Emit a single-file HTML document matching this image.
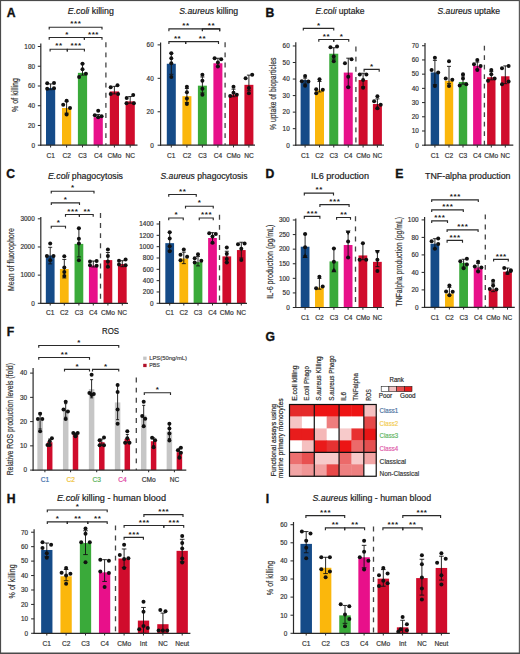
<!DOCTYPE html><html><head><meta charset="utf-8"><style>
html,body{margin:0;padding:0;background:#fff;}
svg{display:block;font-family:"Liberation Sans", sans-serif;}
</style></head><body>
<svg width="520" height="654" viewBox="0 0 520 654">
<rect x="0" y="0" width="520" height="654" fill="#fff"/><rect x="46.00" y="87.95" width="9.20" height="57.25" fill="#154b88"/>
<rect x="62.00" y="107.99" width="9.20" height="37.21" fill="#fbb70c"/>
<rect x="77.90" y="72.85" width="9.20" height="72.35" fill="#3aaa3a"/>
<rect x="93.60" y="117.17" width="9.20" height="28.03" fill="#e8108a"/>
<rect x="109.80" y="91.41" width="9.20" height="53.79" fill="#d00c2c"/>
<rect x="125.60" y="101.38" width="9.20" height="43.82" fill="#d00c2c"/>
<line x1="50.60" y1="83.91" x2="50.60" y2="89.73" stroke="#111" stroke-width="0.9"/>
<line x1="48.60" y1="83.91" x2="52.60" y2="83.91" stroke="#111" stroke-width="0.9"/>
<line x1="48.60" y1="89.73" x2="52.60" y2="89.73" stroke="#111" stroke-width="0.9"/>
<circle cx="47.20" cy="83.32" r="2.0" fill="#111"/>
<circle cx="54.00" cy="83.02" r="2.0" fill="#111"/>
<circle cx="47.20" cy="88.84" r="2.0" fill="#111"/>
<circle cx="54.00" cy="88.35" r="2.0" fill="#111"/>
<line x1="66.60" y1="101.57" x2="66.60" y2="113.12" stroke="#111" stroke-width="0.9"/>
<line x1="64.60" y1="101.57" x2="68.60" y2="101.57" stroke="#111" stroke-width="0.9"/>
<line x1="64.60" y1="113.12" x2="68.60" y2="113.12" stroke="#111" stroke-width="0.9"/>
<circle cx="66.60" cy="100.69" r="2.0" fill="#111"/>
<circle cx="63.20" cy="104.73" r="2.0" fill="#111"/>
<circle cx="70.00" cy="107.99" r="2.0" fill="#111"/>
<circle cx="66.60" cy="114.41" r="2.0" fill="#111"/>
<line x1="82.50" y1="63.77" x2="82.50" y2="75.12" stroke="#111" stroke-width="0.9"/>
<line x1="80.50" y1="63.77" x2="84.50" y2="63.77" stroke="#111" stroke-width="0.9"/>
<line x1="80.50" y1="75.12" x2="84.50" y2="75.12" stroke="#111" stroke-width="0.9"/>
<circle cx="82.50" cy="63.77" r="2.0" fill="#111"/>
<circle cx="82.50" cy="69.30" r="2.0" fill="#111"/>
<circle cx="79.10" cy="76.90" r="2.0" fill="#111"/>
<circle cx="85.90" cy="73.84" r="2.0" fill="#111"/>
<line x1="98.20" y1="114.60" x2="98.20" y2="117.56" stroke="#111" stroke-width="0.9"/>
<line x1="96.20" y1="114.60" x2="100.20" y2="114.60" stroke="#111" stroke-width="0.9"/>
<line x1="96.20" y1="117.56" x2="100.20" y2="117.56" stroke="#111" stroke-width="0.9"/>
<circle cx="98.20" cy="110.75" r="2.0" fill="#111"/>
<circle cx="94.80" cy="115.29" r="2.0" fill="#111"/>
<circle cx="101.60" cy="116.18" r="2.0" fill="#111"/>
<circle cx="98.20" cy="117.17" r="2.0" fill="#111"/>
<line x1="114.40" y1="86.37" x2="114.40" y2="93.88" stroke="#111" stroke-width="0.9"/>
<line x1="112.40" y1="86.37" x2="116.40" y2="86.37" stroke="#111" stroke-width="0.9"/>
<line x1="112.40" y1="93.88" x2="116.40" y2="93.88" stroke="#111" stroke-width="0.9"/>
<circle cx="110.70" cy="87.26" r="2.0" fill="#111"/>
<circle cx="117.50" cy="85.19" r="2.0" fill="#111"/>
<circle cx="110.70" cy="94.07" r="2.0" fill="#111"/>
<circle cx="118.10" cy="94.07" r="2.0" fill="#111"/>
<line x1="130.20" y1="96.54" x2="130.20" y2="103.15" stroke="#111" stroke-width="0.9"/>
<line x1="128.20" y1="96.54" x2="132.20" y2="96.54" stroke="#111" stroke-width="0.9"/>
<line x1="128.20" y1="103.15" x2="132.20" y2="103.15" stroke="#111" stroke-width="0.9"/>
<circle cx="126.70" cy="98.02" r="2.0" fill="#111"/>
<circle cx="133.20" cy="95.06" r="2.0" fill="#111"/>
<circle cx="126.50" cy="103.15" r="2.0" fill="#111"/>
<circle cx="133.90" cy="103.15" r="2.0" fill="#111"/>
<line x1="105.90" y1="42.30" x2="105.90" y2="145.00" stroke="#444" stroke-width="1.3" stroke-dasharray="4.9 5.2"/>
<line x1="40.80" y1="43.50" x2="40.80" y2="145.80" stroke="#2a2a2a" stroke-width="1.2"/>
<line x1="40.20" y1="145.20" x2="137.50" y2="145.20" stroke="#2a2a2a" stroke-width="1.2"/>
<line x1="37.80" y1="145.20" x2="40.80" y2="145.20" stroke="#2a2a2a" stroke-width="1.02"/>
<text x="35.00" y="147.50" font-size="6.4" text-anchor="end" fill="#333333" stroke="#333333" stroke-width="0.18">0</text>
<line x1="37.80" y1="125.46" x2="40.80" y2="125.46" stroke="#2a2a2a" stroke-width="1.02"/>
<text x="35.00" y="127.76" font-size="6.4" text-anchor="end" fill="#333333" stroke="#333333" stroke-width="0.18">20</text>
<line x1="37.80" y1="105.72" x2="40.80" y2="105.72" stroke="#2a2a2a" stroke-width="1.02"/>
<text x="35.00" y="108.02" font-size="6.4" text-anchor="end" fill="#333333" stroke="#333333" stroke-width="0.18">40</text>
<line x1="37.80" y1="85.98" x2="40.80" y2="85.98" stroke="#2a2a2a" stroke-width="1.02"/>
<text x="35.00" y="88.28" font-size="6.4" text-anchor="end" fill="#333333" stroke="#333333" stroke-width="0.18">60</text>
<line x1="37.80" y1="66.24" x2="40.80" y2="66.24" stroke="#2a2a2a" stroke-width="1.02"/>
<text x="35.00" y="68.54" font-size="6.4" text-anchor="end" fill="#333333" stroke="#333333" stroke-width="0.18">80</text>
<line x1="37.80" y1="46.50" x2="40.80" y2="46.50" stroke="#2a2a2a" stroke-width="1.02"/>
<text x="35.00" y="48.80" font-size="6.4" text-anchor="end" fill="#333333" stroke="#333333" stroke-width="0.18">100</text>
<line x1="50.60" y1="145.20" x2="50.60" y2="147.40" stroke="#2a2a2a" stroke-width="1.02"/>
<line x1="66.60" y1="145.20" x2="66.60" y2="147.40" stroke="#2a2a2a" stroke-width="1.02"/>
<line x1="82.50" y1="145.20" x2="82.50" y2="147.40" stroke="#2a2a2a" stroke-width="1.02"/>
<line x1="98.20" y1="145.20" x2="98.20" y2="147.40" stroke="#2a2a2a" stroke-width="1.02"/>
<line x1="114.40" y1="145.20" x2="114.40" y2="147.40" stroke="#2a2a2a" stroke-width="1.02"/>
<line x1="130.20" y1="145.20" x2="130.20" y2="147.40" stroke="#2a2a2a" stroke-width="1.02"/>
<text x="50.60" y="157.50" font-size="6.6" text-anchor="middle" fill="#333333" stroke="#333333" stroke-width="0.18">C1</text>
<text x="66.60" y="157.50" font-size="6.6" text-anchor="middle" fill="#333333" stroke="#333333" stroke-width="0.18">C2</text>
<text x="82.50" y="157.50" font-size="6.6" text-anchor="middle" fill="#333333" stroke="#333333" stroke-width="0.18">C3</text>
<text x="98.20" y="157.50" font-size="6.6" text-anchor="middle" fill="#333333" stroke="#333333" stroke-width="0.18">C4</text>
<text x="114.40" y="157.50" font-size="6.6" text-anchor="middle" fill="#333333" stroke="#333333" stroke-width="0.18">CMo</text>
<text x="130.20" y="157.50" font-size="6.6" text-anchor="middle" fill="#333333" stroke="#333333" stroke-width="0.18">NC</text>
<path d="M49.20 29.50V27.20H102.00V29.50" fill="none" stroke="#2a2a2a" stroke-width="1.15"/>
<text x="75.90" y="26.40" font-size="8" text-anchor="middle" fill="#1a1a1a" font-weight="bold" letter-spacing="0.6">***</text>
<path d="M49.20 39.80V37.50H84.40V39.80" fill="none" stroke="#2a2a2a" stroke-width="1.15"/>
<text x="67.00" y="36.70" font-size="8" text-anchor="middle" fill="#1a1a1a" font-weight="bold" letter-spacing="0.6">*</text>
<path d="M84.40 39.80V37.50H102.00V39.80" fill="none" stroke="#2a2a2a" stroke-width="1.15"/>
<text x="93.50" y="36.70" font-size="8" text-anchor="middle" fill="#1a1a1a" font-weight="bold" letter-spacing="0.6">***</text>
<path d="M50.10 51.50V49.20H67.30V51.50" fill="none" stroke="#2a2a2a" stroke-width="1.15"/>
<text x="59.00" y="48.40" font-size="8" text-anchor="middle" fill="#1a1a1a" font-weight="bold" letter-spacing="0.6">**</text>
<path d="M67.30 51.50V49.20H84.40V51.50" fill="none" stroke="#2a2a2a" stroke-width="1.15"/>
<text x="76.15" y="48.40" font-size="8" text-anchor="middle" fill="#1a1a1a" font-weight="bold" letter-spacing="0.6">***</text>
<text x="67.80" y="14.10" font-size="8.2" fill="#222" stroke="#222" stroke-width="0.18" text-anchor="start" textLength="46.00" lengthAdjust="spacingAndGlyphs"><tspan font-style="italic">E.coli</tspan> killing</text>
<text x="18.40" y="95.00" font-size="8.4" text-anchor="middle" fill="#333333" stroke="#333333" stroke-width="0.18" textLength="33.90" lengthAdjust="spacingAndGlyphs" transform="rotate(-90 18.40 95.00)">% of killing</text>
<rect x="166.80" y="63.77" width="9.00" height="81.43" fill="#154b88"/>
<rect x="182.40" y="96.21" width="9.00" height="48.99" fill="#fbb70c"/>
<rect x="197.90" y="85.68" width="9.00" height="59.52" fill="#3aaa3a"/>
<rect x="213.40" y="63.27" width="9.00" height="81.93" fill="#e8108a"/>
<rect x="229.00" y="94.71" width="9.00" height="50.49" fill="#d00c2c"/>
<rect x="244.40" y="84.84" width="9.00" height="60.36" fill="#d00c2c"/>
<line x1="171.30" y1="53.24" x2="171.30" y2="74.31" stroke="#111" stroke-width="0.9"/>
<line x1="169.30" y1="53.24" x2="173.30" y2="53.24" stroke="#111" stroke-width="0.9"/>
<line x1="169.30" y1="74.31" x2="173.30" y2="74.31" stroke="#111" stroke-width="0.9"/>
<circle cx="171.30" cy="53.24" r="2.0" fill="#111"/>
<circle cx="171.30" cy="58.26" r="2.0" fill="#111"/>
<circle cx="171.30" cy="63.27" r="2.0" fill="#111"/>
<circle cx="171.30" cy="76.98" r="2.0" fill="#111"/>
<line x1="186.90" y1="88.52" x2="186.90" y2="102.56" stroke="#111" stroke-width="0.9"/>
<line x1="184.90" y1="88.52" x2="188.90" y2="88.52" stroke="#111" stroke-width="0.9"/>
<line x1="184.90" y1="102.56" x2="188.90" y2="102.56" stroke="#111" stroke-width="0.9"/>
<circle cx="186.90" cy="86.68" r="2.0" fill="#111"/>
<circle cx="186.90" cy="92.20" r="2.0" fill="#111"/>
<circle cx="186.90" cy="98.38" r="2.0" fill="#111"/>
<circle cx="186.90" cy="103.90" r="2.0" fill="#111"/>
<line x1="202.40" y1="76.98" x2="202.40" y2="92.87" stroke="#111" stroke-width="0.9"/>
<line x1="200.40" y1="76.98" x2="204.40" y2="76.98" stroke="#111" stroke-width="0.9"/>
<line x1="200.40" y1="92.87" x2="204.40" y2="92.87" stroke="#111" stroke-width="0.9"/>
<circle cx="202.40" cy="74.64" r="2.0" fill="#111"/>
<circle cx="202.40" cy="80.66" r="2.0" fill="#111"/>
<circle cx="202.40" cy="88.85" r="2.0" fill="#111"/>
<circle cx="202.40" cy="94.71" r="2.0" fill="#111"/>
<line x1="217.90" y1="58.26" x2="217.90" y2="66.62" stroke="#111" stroke-width="0.9"/>
<line x1="215.90" y1="58.26" x2="219.90" y2="58.26" stroke="#111" stroke-width="0.9"/>
<line x1="215.90" y1="66.62" x2="219.90" y2="66.62" stroke="#111" stroke-width="0.9"/>
<circle cx="214.60" cy="58.26" r="2.0" fill="#111"/>
<circle cx="221.20" cy="59.26" r="2.0" fill="#111"/>
<circle cx="217.90" cy="62.44" r="2.0" fill="#111"/>
<circle cx="217.90" cy="66.62" r="2.0" fill="#111"/>
<line x1="233.50" y1="89.19" x2="233.50" y2="96.71" stroke="#111" stroke-width="0.9"/>
<line x1="231.50" y1="89.19" x2="235.50" y2="89.19" stroke="#111" stroke-width="0.9"/>
<line x1="231.50" y1="96.71" x2="235.50" y2="96.71" stroke="#111" stroke-width="0.9"/>
<circle cx="233.50" cy="86.68" r="2.0" fill="#111"/>
<circle cx="230.20" cy="95.88" r="2.0" fill="#111"/>
<circle cx="236.80" cy="94.71" r="2.0" fill="#111"/>
<circle cx="233.50" cy="92.87" r="2.0" fill="#111"/>
<line x1="248.90" y1="75.14" x2="248.90" y2="90.69" stroke="#111" stroke-width="0.9"/>
<line x1="246.90" y1="75.14" x2="250.90" y2="75.14" stroke="#111" stroke-width="0.9"/>
<line x1="246.90" y1="90.69" x2="250.90" y2="90.69" stroke="#111" stroke-width="0.9"/>
<circle cx="245.60" cy="78.32" r="2.0" fill="#111"/>
<circle cx="252.20" cy="74.64" r="2.0" fill="#111"/>
<circle cx="248.90" cy="88.02" r="2.0" fill="#111"/>
<circle cx="248.90" cy="93.37" r="2.0" fill="#111"/>
<line x1="225.10" y1="42.30" x2="225.10" y2="145.00" stroke="#444" stroke-width="1.3" stroke-dasharray="4.9 5.2"/>
<line x1="160.60" y1="42.50" x2="160.60" y2="145.80" stroke="#2a2a2a" stroke-width="1.2"/>
<line x1="160.00" y1="145.20" x2="255.00" y2="145.20" stroke="#2a2a2a" stroke-width="1.2"/>
<line x1="157.60" y1="145.20" x2="160.60" y2="145.20" stroke="#2a2a2a" stroke-width="1.02"/>
<text x="153.70" y="147.50" font-size="6.4" text-anchor="end" fill="#333333" stroke="#333333" stroke-width="0.18">0</text>
<line x1="157.60" y1="111.76" x2="160.60" y2="111.76" stroke="#2a2a2a" stroke-width="1.02"/>
<text x="153.70" y="114.06" font-size="6.4" text-anchor="end" fill="#333333" stroke="#333333" stroke-width="0.18">20</text>
<line x1="157.60" y1="78.32" x2="160.60" y2="78.32" stroke="#2a2a2a" stroke-width="1.02"/>
<text x="153.70" y="80.62" font-size="6.4" text-anchor="end" fill="#333333" stroke="#333333" stroke-width="0.18">40</text>
<line x1="157.60" y1="44.88" x2="160.60" y2="44.88" stroke="#2a2a2a" stroke-width="1.02"/>
<text x="153.70" y="47.18" font-size="6.4" text-anchor="end" fill="#333333" stroke="#333333" stroke-width="0.18">60</text>
<line x1="171.30" y1="145.20" x2="171.30" y2="147.40" stroke="#2a2a2a" stroke-width="1.02"/>
<line x1="186.90" y1="145.20" x2="186.90" y2="147.40" stroke="#2a2a2a" stroke-width="1.02"/>
<line x1="202.40" y1="145.20" x2="202.40" y2="147.40" stroke="#2a2a2a" stroke-width="1.02"/>
<line x1="217.90" y1="145.20" x2="217.90" y2="147.40" stroke="#2a2a2a" stroke-width="1.02"/>
<line x1="233.50" y1="145.20" x2="233.50" y2="147.40" stroke="#2a2a2a" stroke-width="1.02"/>
<line x1="248.90" y1="145.20" x2="248.90" y2="147.40" stroke="#2a2a2a" stroke-width="1.02"/>
<text x="171.30" y="157.50" font-size="6.6" text-anchor="middle" fill="#333333" stroke="#333333" stroke-width="0.18">C1</text>
<text x="186.90" y="157.50" font-size="6.6" text-anchor="middle" fill="#333333" stroke="#333333" stroke-width="0.18">C2</text>
<text x="202.40" y="157.50" font-size="6.6" text-anchor="middle" fill="#333333" stroke="#333333" stroke-width="0.18">C3</text>
<text x="217.90" y="157.50" font-size="6.6" text-anchor="middle" fill="#333333" stroke="#333333" stroke-width="0.18">C4</text>
<text x="233.50" y="157.50" font-size="6.6" text-anchor="middle" fill="#333333" stroke="#333333" stroke-width="0.18">CMo</text>
<text x="248.90" y="157.50" font-size="6.6" text-anchor="middle" fill="#333333" stroke="#333333" stroke-width="0.18">NC</text>
<path d="M168.90 31.20V28.90H219.70V31.20" fill="none" stroke="#2a2a2a" stroke-width="1.15"/>
<line x1="202.40" y1="28.90" x2="202.40" y2="30.74" stroke="#2a2a2a" stroke-width="1.15"/>
<text x="186.00" y="28.10" font-size="8" text-anchor="middle" fill="#1a1a1a" font-weight="bold" letter-spacing="0.6">**</text>
<path d="M202.40 31.20V28.90H219.70V31.20" fill="none" stroke="#2a2a2a" stroke-width="1.15"/>
<text x="211.40" y="28.10" font-size="8" text-anchor="middle" fill="#1a1a1a" font-weight="bold" letter-spacing="0.6">**</text>
<path d="M168.90 43.90V41.60H185.70V43.90" fill="none" stroke="#2a2a2a" stroke-width="1.15"/>
<text x="177.60" y="40.80" font-size="8" text-anchor="middle" fill="#1a1a1a" font-weight="bold" letter-spacing="0.6">**</text>
<path d="M185.70 43.90V41.60H218.50V43.90" fill="none" stroke="#2a2a2a" stroke-width="1.15"/>
<text x="202.40" y="40.80" font-size="8" text-anchor="middle" fill="#1a1a1a" font-weight="bold" letter-spacing="0.6">**</text>
<text x="179.30" y="14.30" font-size="8.2" fill="#222" stroke="#222" stroke-width="0.18" text-anchor="start" textLength="58.90" lengthAdjust="spacingAndGlyphs"><tspan font-style="italic">S.aureus</tspan> killing</text>
<rect x="300.60" y="80.03" width="9.00" height="65.17" fill="#154b88"/>
<rect x="315.00" y="90.12" width="9.00" height="55.08" fill="#fbb70c"/>
<rect x="329.25" y="53.73" width="9.00" height="91.47" fill="#3aaa3a"/>
<rect x="343.75" y="72.59" width="9.00" height="72.61" fill="#e8108a"/>
<rect x="358.60" y="80.03" width="9.00" height="65.17" fill="#d00c2c"/>
<rect x="372.90" y="104.02" width="9.00" height="41.18" fill="#d00c2c"/>
<line x1="305.10" y1="78.05" x2="305.10" y2="84.00" stroke="#111" stroke-width="0.9"/>
<line x1="303.10" y1="78.05" x2="307.10" y2="78.05" stroke="#111" stroke-width="0.9"/>
<line x1="303.10" y1="84.00" x2="307.10" y2="84.00" stroke="#111" stroke-width="0.9"/>
<circle cx="305.10" cy="76.06" r="2.0" fill="#111"/>
<circle cx="301.80" cy="81.19" r="2.0" fill="#111"/>
<circle cx="308.40" cy="81.52" r="2.0" fill="#111"/>
<circle cx="305.10" cy="85.82" r="2.0" fill="#111"/>
<line x1="319.50" y1="81.52" x2="319.50" y2="91.94" stroke="#111" stroke-width="0.9"/>
<line x1="317.50" y1="81.52" x2="321.50" y2="81.52" stroke="#111" stroke-width="0.9"/>
<line x1="317.50" y1="91.94" x2="321.50" y2="91.94" stroke="#111" stroke-width="0.9"/>
<circle cx="319.50" cy="79.37" r="2.0" fill="#111"/>
<circle cx="316.20" cy="89.29" r="2.0" fill="#111"/>
<circle cx="322.80" cy="89.79" r="2.0" fill="#111"/>
<circle cx="316.20" cy="93.26" r="2.0" fill="#111"/>
<line x1="333.75" y1="47.78" x2="333.75" y2="59.03" stroke="#111" stroke-width="0.9"/>
<line x1="331.75" y1="47.78" x2="335.75" y2="47.78" stroke="#111" stroke-width="0.9"/>
<line x1="331.75" y1="59.03" x2="335.75" y2="59.03" stroke="#111" stroke-width="0.9"/>
<circle cx="330.45" cy="47.28" r="2.0" fill="#111"/>
<circle cx="337.05" cy="46.62" r="2.0" fill="#111"/>
<circle cx="333.75" cy="56.38" r="2.0" fill="#111"/>
<circle cx="333.75" cy="61.18" r="2.0" fill="#111"/>
<line x1="348.25" y1="58.20" x2="348.25" y2="86.65" stroke="#111" stroke-width="0.9"/>
<line x1="346.25" y1="58.20" x2="350.25" y2="58.20" stroke="#111" stroke-width="0.9"/>
<line x1="346.25" y1="86.65" x2="350.25" y2="86.65" stroke="#111" stroke-width="0.9"/>
<circle cx="344.95" cy="63.33" r="2.0" fill="#111"/>
<circle cx="351.55" cy="59.36" r="2.0" fill="#111"/>
<circle cx="348.25" cy="76.72" r="2.0" fill="#111"/>
<circle cx="348.25" cy="87.14" r="2.0" fill="#111"/>
<line x1="363.10" y1="73.25" x2="363.10" y2="86.81" stroke="#111" stroke-width="0.9"/>
<line x1="361.10" y1="73.25" x2="365.10" y2="73.25" stroke="#111" stroke-width="0.9"/>
<line x1="361.10" y1="86.81" x2="365.10" y2="86.81" stroke="#111" stroke-width="0.9"/>
<circle cx="359.80" cy="74.57" r="2.0" fill="#111"/>
<circle cx="366.40" cy="74.57" r="2.0" fill="#111"/>
<circle cx="363.10" cy="80.03" r="2.0" fill="#111"/>
<circle cx="363.10" cy="87.64" r="2.0" fill="#111"/>
<line x1="377.40" y1="98.89" x2="377.40" y2="108.81" stroke="#111" stroke-width="0.9"/>
<line x1="375.40" y1="98.89" x2="379.40" y2="98.89" stroke="#111" stroke-width="0.9"/>
<line x1="375.40" y1="108.81" x2="379.40" y2="108.81" stroke="#111" stroke-width="0.9"/>
<circle cx="377.40" cy="96.24" r="2.0" fill="#111"/>
<circle cx="374.10" cy="101.37" r="2.0" fill="#111"/>
<circle cx="380.70" cy="104.84" r="2.0" fill="#111"/>
<circle cx="377.40" cy="108.32" r="2.0" fill="#111"/>
<line x1="355.90" y1="46.60" x2="355.90" y2="145.00" stroke="#444" stroke-width="1.3" stroke-dasharray="4.9 5.2"/>
<line x1="295.80" y1="42.30" x2="295.80" y2="145.80" stroke="#2a2a2a" stroke-width="1.2"/>
<line x1="295.20" y1="145.20" x2="384.00" y2="145.20" stroke="#2a2a2a" stroke-width="1.2"/>
<line x1="292.80" y1="145.20" x2="295.80" y2="145.20" stroke="#2a2a2a" stroke-width="1.02"/>
<text x="289.70" y="147.50" font-size="6.4" text-anchor="end" fill="#333333" stroke="#333333" stroke-width="0.18">0</text>
<line x1="292.80" y1="128.66" x2="295.80" y2="128.66" stroke="#2a2a2a" stroke-width="1.02"/>
<text x="289.70" y="130.96" font-size="6.4" text-anchor="end" fill="#333333" stroke="#333333" stroke-width="0.18">10</text>
<line x1="292.80" y1="112.12" x2="295.80" y2="112.12" stroke="#2a2a2a" stroke-width="1.02"/>
<text x="289.70" y="114.42" font-size="6.4" text-anchor="end" fill="#333333" stroke="#333333" stroke-width="0.18">20</text>
<line x1="292.80" y1="95.58" x2="295.80" y2="95.58" stroke="#2a2a2a" stroke-width="1.02"/>
<text x="289.70" y="97.88" font-size="6.4" text-anchor="end" fill="#333333" stroke="#333333" stroke-width="0.18">30</text>
<line x1="292.80" y1="79.04" x2="295.80" y2="79.04" stroke="#2a2a2a" stroke-width="1.02"/>
<text x="289.70" y="81.34" font-size="6.4" text-anchor="end" fill="#333333" stroke="#333333" stroke-width="0.18">40</text>
<line x1="292.80" y1="62.50" x2="295.80" y2="62.50" stroke="#2a2a2a" stroke-width="1.02"/>
<text x="289.70" y="64.80" font-size="6.4" text-anchor="end" fill="#333333" stroke="#333333" stroke-width="0.18">50</text>
<line x1="292.80" y1="45.96" x2="295.80" y2="45.96" stroke="#2a2a2a" stroke-width="1.02"/>
<text x="289.70" y="48.26" font-size="6.4" text-anchor="end" fill="#333333" stroke="#333333" stroke-width="0.18">60</text>
<line x1="305.10" y1="145.20" x2="305.10" y2="147.40" stroke="#2a2a2a" stroke-width="1.02"/>
<line x1="319.50" y1="145.20" x2="319.50" y2="147.40" stroke="#2a2a2a" stroke-width="1.02"/>
<line x1="333.75" y1="145.20" x2="333.75" y2="147.40" stroke="#2a2a2a" stroke-width="1.02"/>
<line x1="348.25" y1="145.20" x2="348.25" y2="147.40" stroke="#2a2a2a" stroke-width="1.02"/>
<line x1="363.10" y1="145.20" x2="363.10" y2="147.40" stroke="#2a2a2a" stroke-width="1.02"/>
<line x1="377.40" y1="145.20" x2="377.40" y2="147.40" stroke="#2a2a2a" stroke-width="1.02"/>
<text x="305.10" y="157.50" font-size="6.6" text-anchor="middle" fill="#333333" stroke="#333333" stroke-width="0.18">C1</text>
<text x="319.50" y="157.50" font-size="6.6" text-anchor="middle" fill="#333333" stroke="#333333" stroke-width="0.18">C2</text>
<text x="333.75" y="157.50" font-size="6.6" text-anchor="middle" fill="#333333" stroke="#333333" stroke-width="0.18">C3</text>
<text x="348.25" y="157.50" font-size="6.6" text-anchor="middle" fill="#333333" stroke="#333333" stroke-width="0.18">C4</text>
<text x="363.10" y="157.50" font-size="6.6" text-anchor="middle" fill="#333333" stroke="#333333" stroke-width="0.18">CMo</text>
<text x="377.40" y="157.50" font-size="6.6" text-anchor="middle" fill="#333333" stroke="#333333" stroke-width="0.18">NC</text>
<path d="M303.30 30.60V28.30H333.75V30.60" fill="none" stroke="#2a2a2a" stroke-width="1.15"/>
<text x="318.82" y="27.50" font-size="8" text-anchor="middle" fill="#1a1a1a" font-weight="bold" letter-spacing="0.6">*</text>
<path d="M318.80 41.80V39.50H333.75V41.80" fill="none" stroke="#2a2a2a" stroke-width="1.15"/>
<text x="326.57" y="38.70" font-size="8" text-anchor="middle" fill="#1a1a1a" font-weight="bold" letter-spacing="0.6">**</text>
<path d="M333.75 41.80V39.50H348.75V41.80" fill="none" stroke="#2a2a2a" stroke-width="1.15"/>
<text x="341.55" y="38.70" font-size="8" text-anchor="middle" fill="#1a1a1a" font-weight="bold" letter-spacing="0.6">*</text>
<path d="M364.10 71.70V69.40H379.20V71.70" fill="none" stroke="#2a2a2a" stroke-width="1.15"/>
<text x="371.95" y="68.60" font-size="8" text-anchor="middle" fill="#1a1a1a" font-weight="bold" letter-spacing="0.6">*</text>
<text x="315.50" y="14.10" font-size="8.2" fill="#222" stroke="#222" stroke-width="0.18" text-anchor="start" textLength="49.00" lengthAdjust="spacingAndGlyphs"><tspan font-style="italic">E.coli</tspan> uptake</text>
<text x="275.60" y="93.80" font-size="8.4" text-anchor="middle" fill="#333333" stroke="#333333" stroke-width="0.18" textLength="72.50" lengthAdjust="spacingAndGlyphs" transform="rotate(-90 275.60 93.80)">% uptake of bioparticles</text>
<rect x="430.70" y="72.44" width="8.40" height="72.76" fill="#154b88"/>
<rect x="444.80" y="80.83" width="8.40" height="64.37" fill="#fbb70c"/>
<rect x="458.80" y="81.97" width="8.40" height="63.23" fill="#3aaa3a"/>
<rect x="473.10" y="65.91" width="8.40" height="79.29" fill="#e8108a"/>
<rect x="487.10" y="77.28" width="8.40" height="67.92" fill="#d00c2c"/>
<rect x="501.10" y="76.28" width="8.40" height="68.92" fill="#d00c2c"/>
<line x1="434.90" y1="60.37" x2="434.90" y2="84.67" stroke="#111" stroke-width="0.9"/>
<line x1="432.90" y1="60.37" x2="436.90" y2="60.37" stroke="#111" stroke-width="0.9"/>
<line x1="432.90" y1="84.67" x2="436.90" y2="84.67" stroke="#111" stroke-width="0.9"/>
<circle cx="434.90" cy="57.81" r="2.0" fill="#111"/>
<circle cx="431.60" cy="69.89" r="2.0" fill="#111"/>
<circle cx="438.20" cy="72.44" r="2.0" fill="#111"/>
<circle cx="434.90" cy="85.94" r="2.0" fill="#111"/>
<line x1="449.00" y1="66.33" x2="449.00" y2="83.67" stroke="#111" stroke-width="0.9"/>
<line x1="447.00" y1="66.33" x2="451.00" y2="66.33" stroke="#111" stroke-width="0.9"/>
<line x1="447.00" y1="83.67" x2="451.00" y2="83.67" stroke="#111" stroke-width="0.9"/>
<circle cx="449.00" cy="61.22" r="2.0" fill="#111"/>
<circle cx="445.70" cy="78.56" r="2.0" fill="#111"/>
<circle cx="452.30" cy="79.83" r="2.0" fill="#111"/>
<circle cx="449.00" cy="85.94" r="2.0" fill="#111"/>
<line x1="463.00" y1="76.00" x2="463.00" y2="84.10" stroke="#111" stroke-width="0.9"/>
<line x1="461.00" y1="76.00" x2="465.00" y2="76.00" stroke="#111" stroke-width="0.9"/>
<line x1="461.00" y1="84.10" x2="465.00" y2="84.10" stroke="#111" stroke-width="0.9"/>
<circle cx="463.00" cy="74.15" r="2.0" fill="#111"/>
<circle cx="463.00" cy="78.56" r="2.0" fill="#111"/>
<circle cx="459.70" cy="85.52" r="2.0" fill="#111"/>
<circle cx="466.30" cy="84.24" r="2.0" fill="#111"/>
<line x1="477.30" y1="62.07" x2="477.30" y2="69.18" stroke="#111" stroke-width="0.9"/>
<line x1="475.30" y1="62.07" x2="479.30" y2="62.07" stroke="#111" stroke-width="0.9"/>
<line x1="475.30" y1="69.18" x2="479.30" y2="69.18" stroke="#111" stroke-width="0.9"/>
<circle cx="477.30" cy="59.94" r="2.0" fill="#111"/>
<circle cx="474.00" cy="64.20" r="2.0" fill="#111"/>
<circle cx="480.60" cy="65.91" r="2.0" fill="#111"/>
<circle cx="477.30" cy="69.89" r="2.0" fill="#111"/>
<line x1="491.30" y1="71.59" x2="491.30" y2="79.83" stroke="#111" stroke-width="0.9"/>
<line x1="489.30" y1="71.59" x2="493.30" y2="71.59" stroke="#111" stroke-width="0.9"/>
<line x1="489.30" y1="79.83" x2="493.30" y2="79.83" stroke="#111" stroke-width="0.9"/>
<circle cx="491.30" cy="69.89" r="2.0" fill="#111"/>
<circle cx="491.30" cy="74.15" r="2.0" fill="#111"/>
<circle cx="488.00" cy="80.83" r="2.0" fill="#111"/>
<circle cx="494.60" cy="78.56" r="2.0" fill="#111"/>
<line x1="505.30" y1="65.91" x2="505.30" y2="83.67" stroke="#111" stroke-width="0.9"/>
<line x1="503.30" y1="65.91" x2="507.30" y2="65.91" stroke="#111" stroke-width="0.9"/>
<line x1="503.30" y1="83.67" x2="507.30" y2="83.67" stroke="#111" stroke-width="0.9"/>
<circle cx="502.00" cy="68.18" r="2.0" fill="#111"/>
<circle cx="508.60" cy="65.91" r="2.0" fill="#111"/>
<circle cx="502.00" cy="84.24" r="2.0" fill="#111"/>
<circle cx="508.60" cy="81.54" r="2.0" fill="#111"/>
<line x1="484.40" y1="45.80" x2="484.40" y2="145.00" stroke="#444" stroke-width="1.3" stroke-dasharray="4.7 4.8"/>
<line x1="425.00" y1="43.00" x2="425.00" y2="145.80" stroke="#2a2a2a" stroke-width="1.2"/>
<line x1="424.40" y1="145.20" x2="513.30" y2="145.20" stroke="#2a2a2a" stroke-width="1.2"/>
<line x1="422.00" y1="145.20" x2="425.00" y2="145.20" stroke="#2a2a2a" stroke-width="1.02"/>
<text x="418.90" y="147.50" font-size="6.4" text-anchor="end" fill="#333333" stroke="#333333" stroke-width="0.18">0</text>
<line x1="422.00" y1="130.99" x2="425.00" y2="130.99" stroke="#2a2a2a" stroke-width="1.02"/>
<text x="418.90" y="133.29" font-size="6.4" text-anchor="end" fill="#333333" stroke="#333333" stroke-width="0.18">10</text>
<line x1="422.00" y1="116.78" x2="425.00" y2="116.78" stroke="#2a2a2a" stroke-width="1.02"/>
<text x="418.90" y="119.08" font-size="6.4" text-anchor="end" fill="#333333" stroke="#333333" stroke-width="0.18">20</text>
<line x1="422.00" y1="102.57" x2="425.00" y2="102.57" stroke="#2a2a2a" stroke-width="1.02"/>
<text x="418.90" y="104.87" font-size="6.4" text-anchor="end" fill="#333333" stroke="#333333" stroke-width="0.18">30</text>
<line x1="422.00" y1="88.36" x2="425.00" y2="88.36" stroke="#2a2a2a" stroke-width="1.02"/>
<text x="418.90" y="90.66" font-size="6.4" text-anchor="end" fill="#333333" stroke="#333333" stroke-width="0.18">40</text>
<line x1="422.00" y1="74.15" x2="425.00" y2="74.15" stroke="#2a2a2a" stroke-width="1.02"/>
<text x="418.90" y="76.45" font-size="6.4" text-anchor="end" fill="#333333" stroke="#333333" stroke-width="0.18">50</text>
<line x1="422.00" y1="59.94" x2="425.00" y2="59.94" stroke="#2a2a2a" stroke-width="1.02"/>
<text x="418.90" y="62.24" font-size="6.4" text-anchor="end" fill="#333333" stroke="#333333" stroke-width="0.18">60</text>
<line x1="422.00" y1="45.73" x2="425.00" y2="45.73" stroke="#2a2a2a" stroke-width="1.02"/>
<text x="418.90" y="48.03" font-size="6.4" text-anchor="end" fill="#333333" stroke="#333333" stroke-width="0.18">70</text>
<line x1="434.90" y1="145.20" x2="434.90" y2="147.40" stroke="#2a2a2a" stroke-width="1.02"/>
<line x1="449.00" y1="145.20" x2="449.00" y2="147.40" stroke="#2a2a2a" stroke-width="1.02"/>
<line x1="463.00" y1="145.20" x2="463.00" y2="147.40" stroke="#2a2a2a" stroke-width="1.02"/>
<line x1="477.30" y1="145.20" x2="477.30" y2="147.40" stroke="#2a2a2a" stroke-width="1.02"/>
<line x1="491.30" y1="145.20" x2="491.30" y2="147.40" stroke="#2a2a2a" stroke-width="1.02"/>
<line x1="505.30" y1="145.20" x2="505.30" y2="147.40" stroke="#2a2a2a" stroke-width="1.02"/>
<text x="434.90" y="157.50" font-size="6.6" text-anchor="middle" fill="#333333" stroke="#333333" stroke-width="0.18">C1</text>
<text x="449.00" y="157.50" font-size="6.6" text-anchor="middle" fill="#333333" stroke="#333333" stroke-width="0.18">C2</text>
<text x="463.00" y="157.50" font-size="6.6" text-anchor="middle" fill="#333333" stroke="#333333" stroke-width="0.18">C3</text>
<text x="477.30" y="157.50" font-size="6.6" text-anchor="middle" fill="#333333" stroke="#333333" stroke-width="0.18">C4</text>
<text x="491.30" y="157.50" font-size="6.6" text-anchor="middle" fill="#333333" stroke="#333333" stroke-width="0.18">CMo</text>
<text x="505.30" y="157.50" font-size="6.6" text-anchor="middle" fill="#333333" stroke="#333333" stroke-width="0.18">NC</text>
<text x="437.50" y="14.10" font-size="8.2" fill="#222" stroke="#222" stroke-width="0.18" text-anchor="start" textLength="62.50" lengthAdjust="spacingAndGlyphs"><tspan font-style="italic">S.aureus</tspan> uptake</text>
<rect x="45.83" y="255.50" width="8.75" height="47.80" fill="#154b88"/>
<rect x="59.92" y="268.99" width="8.75" height="34.31" fill="#fbb70c"/>
<rect x="74.53" y="243.89" width="8.75" height="59.41" fill="#3aaa3a"/>
<rect x="88.92" y="265.50" width="8.75" height="37.80" fill="#e8108a"/>
<rect x="103.53" y="260.09" width="8.75" height="43.21" fill="#d00c2c"/>
<rect x="117.92" y="264.09" width="8.75" height="39.21" fill="#d00c2c"/>
<line x1="50.20" y1="247.30" x2="50.20" y2="263.86" stroke="#111" stroke-width="0.9"/>
<line x1="48.20" y1="247.30" x2="52.20" y2="247.30" stroke="#111" stroke-width="0.9"/>
<line x1="48.20" y1="263.86" x2="52.20" y2="263.86" stroke="#111" stroke-width="0.9"/>
<circle cx="50.20" cy="243.41" r="2.0" fill="#111"/>
<circle cx="46.90" cy="256.00" r="2.0" fill="#111"/>
<circle cx="53.50" cy="256.00" r="2.0" fill="#111"/>
<circle cx="50.20" cy="260.20" r="2.0" fill="#111"/>
<line x1="64.30" y1="259.41" x2="64.30" y2="277.95" stroke="#111" stroke-width="0.9"/>
<line x1="62.30" y1="259.41" x2="66.30" y2="259.41" stroke="#111" stroke-width="0.9"/>
<line x1="62.30" y1="277.95" x2="66.30" y2="277.95" stroke="#111" stroke-width="0.9"/>
<circle cx="64.30" cy="256.31" r="2.0" fill="#111"/>
<circle cx="64.30" cy="267.61" r="2.0" fill="#111"/>
<circle cx="64.30" cy="271.89" r="2.0" fill="#111"/>
<circle cx="64.30" cy="275.89" r="2.0" fill="#111"/>
<line x1="78.90" y1="228.31" x2="78.90" y2="256.90" stroke="#111" stroke-width="0.9"/>
<line x1="76.90" y1="228.31" x2="80.90" y2="228.31" stroke="#111" stroke-width="0.9"/>
<line x1="76.90" y1="256.90" x2="80.90" y2="256.90" stroke="#111" stroke-width="0.9"/>
<circle cx="78.90" cy="228.31" r="2.0" fill="#111"/>
<circle cx="78.90" cy="238.71" r="2.0" fill="#111"/>
<circle cx="78.90" cy="243.41" r="2.0" fill="#111"/>
<circle cx="78.90" cy="260.31" r="2.0" fill="#111"/>
<line x1="93.30" y1="261.05" x2="93.30" y2="266.96" stroke="#111" stroke-width="0.9"/>
<line x1="91.30" y1="261.05" x2="95.30" y2="261.05" stroke="#111" stroke-width="0.9"/>
<line x1="91.30" y1="266.96" x2="95.30" y2="266.96" stroke="#111" stroke-width="0.9"/>
<circle cx="90.00" cy="261.50" r="2.0" fill="#111"/>
<circle cx="96.60" cy="260.99" r="2.0" fill="#111"/>
<circle cx="90.00" cy="265.30" r="2.0" fill="#111"/>
<circle cx="96.60" cy="265.81" r="2.0" fill="#111"/>
<line x1="107.90" y1="252.51" x2="107.90" y2="267.24" stroke="#111" stroke-width="0.9"/>
<line x1="105.90" y1="252.51" x2="109.90" y2="252.51" stroke="#111" stroke-width="0.9"/>
<line x1="105.90" y1="267.24" x2="109.90" y2="267.24" stroke="#111" stroke-width="0.9"/>
<circle cx="107.90" cy="249.41" r="2.0" fill="#111"/>
<circle cx="107.90" cy="256.00" r="2.0" fill="#111"/>
<circle cx="107.90" cy="261.50" r="2.0" fill="#111"/>
<circle cx="107.90" cy="266.71" r="2.0" fill="#111"/>
<line x1="122.30" y1="260.71" x2="122.30" y2="266.68" stroke="#111" stroke-width="0.9"/>
<line x1="120.30" y1="260.71" x2="124.30" y2="260.71" stroke="#111" stroke-width="0.9"/>
<line x1="120.30" y1="266.68" x2="124.30" y2="266.68" stroke="#111" stroke-width="0.9"/>
<circle cx="119.00" cy="260.71" r="2.0" fill="#111"/>
<circle cx="125.60" cy="259.41" r="2.0" fill="#111"/>
<circle cx="119.00" cy="264.59" r="2.0" fill="#111"/>
<circle cx="125.60" cy="265.30" r="2.0" fill="#111"/>
<line x1="100.50" y1="213.00" x2="100.50" y2="303.00" stroke="#444" stroke-width="1.3" stroke-dasharray="4.9 5.2"/>
<line x1="40.80" y1="217.00" x2="40.80" y2="303.90" stroke="#2a2a2a" stroke-width="1.2"/>
<line x1="40.20" y1="303.30" x2="128.00" y2="303.30" stroke="#2a2a2a" stroke-width="1.2"/>
<line x1="37.80" y1="303.30" x2="40.80" y2="303.30" stroke="#2a2a2a" stroke-width="1.02"/>
<text x="34.70" y="305.60" font-size="6.4" text-anchor="end" fill="#333333" stroke="#333333" stroke-width="0.18">0</text>
<line x1="37.80" y1="275.13" x2="40.80" y2="275.13" stroke="#2a2a2a" stroke-width="1.02"/>
<text x="34.70" y="277.43" font-size="6.4" text-anchor="end" fill="#333333" stroke="#333333" stroke-width="0.18">1000</text>
<line x1="37.80" y1="246.96" x2="40.80" y2="246.96" stroke="#2a2a2a" stroke-width="1.02"/>
<text x="34.70" y="249.26" font-size="6.4" text-anchor="end" fill="#333333" stroke="#333333" stroke-width="0.18">2000</text>
<line x1="37.80" y1="218.79" x2="40.80" y2="218.79" stroke="#2a2a2a" stroke-width="1.02"/>
<text x="34.70" y="221.09" font-size="6.4" text-anchor="end" fill="#333333" stroke="#333333" stroke-width="0.18">3000</text>
<line x1="50.20" y1="303.30" x2="50.20" y2="305.50" stroke="#2a2a2a" stroke-width="1.02"/>
<line x1="64.30" y1="303.30" x2="64.30" y2="305.50" stroke="#2a2a2a" stroke-width="1.02"/>
<line x1="78.90" y1="303.30" x2="78.90" y2="305.50" stroke="#2a2a2a" stroke-width="1.02"/>
<line x1="93.30" y1="303.30" x2="93.30" y2="305.50" stroke="#2a2a2a" stroke-width="1.02"/>
<line x1="107.90" y1="303.30" x2="107.90" y2="305.50" stroke="#2a2a2a" stroke-width="1.02"/>
<line x1="122.30" y1="303.30" x2="122.30" y2="305.50" stroke="#2a2a2a" stroke-width="1.02"/>
<text x="50.20" y="314.70" font-size="6.6" text-anchor="middle" fill="#333333" stroke="#333333" stroke-width="0.18">C1</text>
<text x="64.30" y="314.70" font-size="6.6" text-anchor="middle" fill="#333333" stroke="#333333" stroke-width="0.18">C2</text>
<text x="78.90" y="314.70" font-size="6.6" text-anchor="middle" fill="#333333" stroke="#333333" stroke-width="0.18">C3</text>
<text x="93.30" y="314.70" font-size="6.6" text-anchor="middle" fill="#333333" stroke="#333333" stroke-width="0.18">C4</text>
<text x="107.90" y="314.70" font-size="6.6" text-anchor="middle" fill="#333333" stroke="#333333" stroke-width="0.18">CMo</text>
<text x="122.30" y="314.70" font-size="6.6" text-anchor="middle" fill="#333333" stroke="#333333" stroke-width="0.18">NC</text>
<path d="M51.25 193.55V191.25H94.00V193.55" fill="none" stroke="#2a2a2a" stroke-width="1.15"/>
<text x="72.92" y="190.45" font-size="8" text-anchor="middle" fill="#1a1a1a" font-weight="bold" letter-spacing="0.6">*</text>
<path d="M51.30 205.10V202.80H79.50V205.10" fill="none" stroke="#2a2a2a" stroke-width="1.15"/>
<text x="65.70" y="202.00" font-size="8" text-anchor="middle" fill="#1a1a1a" font-weight="bold" letter-spacing="0.6">*</text>
<path d="M65.50 216.80V214.50H79.40V216.80" fill="none" stroke="#2a2a2a" stroke-width="1.15"/>
<text x="72.80" y="213.70" font-size="8" text-anchor="middle" fill="#1a1a1a" font-weight="bold" letter-spacing="0.6">***</text>
<path d="M79.40 216.80V214.50H93.20V216.80" fill="none" stroke="#2a2a2a" stroke-width="1.15"/>
<text x="87.10" y="213.70" font-size="8" text-anchor="middle" fill="#1a1a1a" font-weight="bold" letter-spacing="0.6">**</text>
<path d="M51.25 228.55V226.25H65.50V228.55" fill="none" stroke="#2a2a2a" stroke-width="1.15"/>
<text x="58.67" y="225.45" font-size="8" text-anchor="middle" fill="#1a1a1a" font-weight="bold" letter-spacing="0.6">*</text>
<text x="48.00" y="178.70" font-size="8.2" fill="#222" stroke="#222" stroke-width="0.18" text-anchor="start" textLength="75.00" lengthAdjust="spacingAndGlyphs"><tspan font-style="italic">E.coli</tspan> phagocytosis</text>
<text x="13.90" y="259.50" font-size="8.4" text-anchor="middle" fill="#333333" stroke="#333333" stroke-width="0.18" textLength="63.00" lengthAdjust="spacingAndGlyphs" transform="rotate(-90 13.90 259.50)">Mean of fluorophore</text>
<rect x="165.32" y="243.15" width="8.75" height="60.15" fill="#154b88"/>
<rect x="179.43" y="258.55" width="8.75" height="44.75" fill="#fbb70c"/>
<rect x="193.62" y="262.12" width="8.75" height="41.18" fill="#3aaa3a"/>
<rect x="208.12" y="237.99" width="8.75" height="65.31" fill="#e8108a"/>
<rect x="222.43" y="256.40" width="8.75" height="46.90" fill="#d00c2c"/>
<rect x="236.93" y="250.06" width="8.75" height="53.24" fill="#d00c2c"/>
<line x1="169.70" y1="232.27" x2="169.70" y2="250.45" stroke="#111" stroke-width="0.9"/>
<line x1="167.70" y1="232.27" x2="171.70" y2="232.27" stroke="#111" stroke-width="0.9"/>
<line x1="167.70" y1="250.45" x2="171.70" y2="250.45" stroke="#111" stroke-width="0.9"/>
<circle cx="169.70" cy="232.27" r="2.0" fill="#111"/>
<circle cx="169.70" cy="238.39" r="2.0" fill="#111"/>
<circle cx="169.70" cy="246.15" r="2.0" fill="#111"/>
<circle cx="169.70" cy="251.25" r="2.0" fill="#111"/>
<line x1="183.80" y1="252.15" x2="183.80" y2="263.65" stroke="#111" stroke-width="0.9"/>
<line x1="181.80" y1="252.15" x2="185.80" y2="252.15" stroke="#111" stroke-width="0.9"/>
<line x1="181.80" y1="263.65" x2="185.80" y2="263.65" stroke="#111" stroke-width="0.9"/>
<circle cx="183.80" cy="249.55" r="2.0" fill="#111"/>
<circle cx="180.50" cy="254.70" r="2.0" fill="#111"/>
<circle cx="187.10" cy="256.86" r="2.0" fill="#111"/>
<circle cx="180.50" cy="260.20" r="2.0" fill="#111"/>
<line x1="198.00" y1="256.40" x2="198.00" y2="265.92" stroke="#111" stroke-width="0.9"/>
<line x1="196.00" y1="256.40" x2="200.00" y2="256.40" stroke="#111" stroke-width="0.9"/>
<line x1="196.00" y1="265.92" x2="200.00" y2="265.92" stroke="#111" stroke-width="0.9"/>
<circle cx="198.00" cy="254.25" r="2.0" fill="#111"/>
<circle cx="194.70" cy="258.21" r="2.0" fill="#111"/>
<circle cx="201.30" cy="260.82" r="2.0" fill="#111"/>
<circle cx="194.70" cy="262.52" r="2.0" fill="#111"/>
<line x1="212.50" y1="232.67" x2="212.50" y2="243.26" stroke="#111" stroke-width="0.9"/>
<line x1="210.50" y1="232.67" x2="214.50" y2="232.67" stroke="#111" stroke-width="0.9"/>
<line x1="210.50" y1="243.26" x2="214.50" y2="243.26" stroke="#111" stroke-width="0.9"/>
<circle cx="209.20" cy="233.18" r="2.0" fill="#111"/>
<circle cx="215.80" cy="233.97" r="2.0" fill="#111"/>
<circle cx="212.50" cy="236.58" r="2.0" fill="#111"/>
<circle cx="212.50" cy="242.64" r="2.0" fill="#111"/>
<line x1="226.80" y1="251.25" x2="226.80" y2="262.52" stroke="#111" stroke-width="0.9"/>
<line x1="224.80" y1="251.25" x2="228.80" y2="251.25" stroke="#111" stroke-width="0.9"/>
<line x1="224.80" y1="262.52" x2="228.80" y2="262.52" stroke="#111" stroke-width="0.9"/>
<circle cx="226.80" cy="247.45" r="2.0" fill="#111"/>
<circle cx="226.80" cy="253.85" r="2.0" fill="#111"/>
<circle cx="226.80" cy="259.01" r="2.0" fill="#111"/>
<circle cx="226.80" cy="262.52" r="2.0" fill="#111"/>
<line x1="241.30" y1="242.24" x2="241.30" y2="257.99" stroke="#111" stroke-width="0.9"/>
<line x1="239.30" y1="242.24" x2="243.30" y2="242.24" stroke="#111" stroke-width="0.9"/>
<line x1="239.30" y1="257.99" x2="243.30" y2="257.99" stroke="#111" stroke-width="0.9"/>
<circle cx="238.00" cy="244.34" r="2.0" fill="#111"/>
<circle cx="244.60" cy="243.54" r="2.0" fill="#111"/>
<circle cx="241.30" cy="248.64" r="2.0" fill="#111"/>
<circle cx="241.30" cy="259.91" r="2.0" fill="#111"/>
<line x1="219.50" y1="214.80" x2="219.50" y2="303.00" stroke="#444" stroke-width="1.3" stroke-dasharray="4.9 5.2"/>
<line x1="159.60" y1="221.10" x2="159.60" y2="303.90" stroke="#2a2a2a" stroke-width="1.2"/>
<line x1="159.00" y1="303.30" x2="247.00" y2="303.30" stroke="#2a2a2a" stroke-width="1.2"/>
<line x1="156.60" y1="303.30" x2="159.60" y2="303.30" stroke="#2a2a2a" stroke-width="1.02"/>
<text x="153.50" y="305.60" font-size="6.4" text-anchor="end" fill="#333333" stroke="#333333" stroke-width="0.18">0</text>
<line x1="156.60" y1="291.97" x2="159.60" y2="291.97" stroke="#2a2a2a" stroke-width="1.02"/>
<text x="153.50" y="294.28" font-size="6.4" text-anchor="end" fill="#333333" stroke="#333333" stroke-width="0.18">200</text>
<line x1="156.60" y1="280.64" x2="159.60" y2="280.64" stroke="#2a2a2a" stroke-width="1.02"/>
<text x="153.50" y="282.95" font-size="6.4" text-anchor="end" fill="#333333" stroke="#333333" stroke-width="0.18">400</text>
<line x1="156.60" y1="269.32" x2="159.60" y2="269.32" stroke="#2a2a2a" stroke-width="1.02"/>
<text x="153.50" y="271.62" font-size="6.4" text-anchor="end" fill="#333333" stroke="#333333" stroke-width="0.18">600</text>
<line x1="156.60" y1="257.99" x2="159.60" y2="257.99" stroke="#2a2a2a" stroke-width="1.02"/>
<text x="153.50" y="260.29" font-size="6.4" text-anchor="end" fill="#333333" stroke="#333333" stroke-width="0.18">800</text>
<line x1="156.60" y1="246.66" x2="159.60" y2="246.66" stroke="#2a2a2a" stroke-width="1.02"/>
<text x="153.50" y="248.96" font-size="6.4" text-anchor="end" fill="#333333" stroke="#333333" stroke-width="0.18">1000</text>
<line x1="156.60" y1="235.33" x2="159.60" y2="235.33" stroke="#2a2a2a" stroke-width="1.02"/>
<text x="153.50" y="237.64" font-size="6.4" text-anchor="end" fill="#333333" stroke="#333333" stroke-width="0.18">1200</text>
<line x1="156.60" y1="224.00" x2="159.60" y2="224.00" stroke="#2a2a2a" stroke-width="1.02"/>
<text x="153.50" y="226.31" font-size="6.4" text-anchor="end" fill="#333333" stroke="#333333" stroke-width="0.18">1400</text>
<line x1="169.70" y1="303.30" x2="169.70" y2="305.50" stroke="#2a2a2a" stroke-width="1.02"/>
<line x1="183.80" y1="303.30" x2="183.80" y2="305.50" stroke="#2a2a2a" stroke-width="1.02"/>
<line x1="198.00" y1="303.30" x2="198.00" y2="305.50" stroke="#2a2a2a" stroke-width="1.02"/>
<line x1="212.50" y1="303.30" x2="212.50" y2="305.50" stroke="#2a2a2a" stroke-width="1.02"/>
<line x1="226.80" y1="303.30" x2="226.80" y2="305.50" stroke="#2a2a2a" stroke-width="1.02"/>
<line x1="241.30" y1="303.30" x2="241.30" y2="305.50" stroke="#2a2a2a" stroke-width="1.02"/>
<text x="169.70" y="314.70" font-size="6.6" text-anchor="middle" fill="#333333" stroke="#333333" stroke-width="0.18">C1</text>
<text x="183.80" y="314.70" font-size="6.6" text-anchor="middle" fill="#333333" stroke="#333333" stroke-width="0.18">C2</text>
<text x="198.00" y="314.70" font-size="6.6" text-anchor="middle" fill="#333333" stroke="#333333" stroke-width="0.18">C3</text>
<text x="212.50" y="314.70" font-size="6.6" text-anchor="middle" fill="#333333" stroke="#333333" stroke-width="0.18">C4</text>
<text x="226.80" y="314.70" font-size="6.6" text-anchor="middle" fill="#333333" stroke="#333333" stroke-width="0.18">CMo</text>
<text x="241.30" y="314.70" font-size="6.6" text-anchor="middle" fill="#333333" stroke="#333333" stroke-width="0.18">NC</text>
<path d="M168.75 196.80V194.50H196.25V196.80" fill="none" stroke="#2a2a2a" stroke-width="1.15"/>
<text x="182.80" y="193.70" font-size="8" text-anchor="middle" fill="#1a1a1a" font-weight="bold" letter-spacing="0.6">**</text>
<path d="M185.50 208.55V206.25H213.25V208.55" fill="none" stroke="#2a2a2a" stroke-width="1.15"/>
<text x="199.68" y="205.45" font-size="8" text-anchor="middle" fill="#1a1a1a" font-weight="bold" letter-spacing="0.6">*</text>
<path d="M168.75 220.30V218.00H183.25V220.30" fill="none" stroke="#2a2a2a" stroke-width="1.15"/>
<text x="176.30" y="217.20" font-size="8" text-anchor="middle" fill="#1a1a1a" font-weight="bold" letter-spacing="0.6">*</text>
<path d="M199.25 220.30V218.00H213.25V220.30" fill="none" stroke="#2a2a2a" stroke-width="1.15"/>
<text x="206.55" y="217.20" font-size="8" text-anchor="middle" fill="#1a1a1a" font-weight="bold" letter-spacing="0.6">***</text>
<text x="160.50" y="178.70" font-size="8.2" fill="#222" stroke="#222" stroke-width="0.18" text-anchor="start" textLength="87.00" lengthAdjust="spacingAndGlyphs"><tspan font-style="italic">S.aureus</tspan> phagocytosis</text>
<rect x="300.73" y="246.71" width="8.75" height="60.79" fill="#154b88"/>
<rect x="315.02" y="287.46" width="8.75" height="20.04" fill="#fbb70c"/>
<rect x="329.52" y="261.41" width="8.75" height="46.09" fill="#3aaa3a"/>
<rect x="343.73" y="245.02" width="8.75" height="62.48" fill="#e8108a"/>
<rect x="358.52" y="255.43" width="8.75" height="52.07" fill="#d00c2c"/>
<rect x="373.02" y="261.85" width="8.75" height="45.65" fill="#d00c2c"/>
<line x1="305.10" y1="234.11" x2="305.10" y2="255.87" stroke="#111" stroke-width="0.9"/>
<line x1="303.10" y1="234.11" x2="307.10" y2="234.11" stroke="#111" stroke-width="0.9"/>
<line x1="303.10" y1="255.87" x2="307.10" y2="255.87" stroke="#111" stroke-width="0.9"/>
<circle cx="305.10" cy="234.11" r="2.0" fill="#111"/>
<circle cx="305.10" cy="247.23" r="2.0" fill="#111"/>
<path d="M302.60 257.93L307.60 257.93L305.10 253.18Z" fill="#111"/>
<line x1="319.40" y1="278.45" x2="319.40" y2="289.18" stroke="#111" stroke-width="0.9"/>
<line x1="317.40" y1="278.45" x2="321.40" y2="278.45" stroke="#111" stroke-width="0.9"/>
<line x1="317.40" y1="289.18" x2="321.40" y2="289.18" stroke="#111" stroke-width="0.9"/>
<circle cx="319.40" cy="276.75" r="2.0" fill="#111"/>
<circle cx="316.10" cy="288.28" r="2.0" fill="#111"/>
<circle cx="322.70" cy="286.59" r="2.0" fill="#111"/>
<line x1="333.90" y1="248.52" x2="333.90" y2="270.16" stroke="#111" stroke-width="0.9"/>
<line x1="331.90" y1="248.52" x2="335.90" y2="248.52" stroke="#111" stroke-width="0.9"/>
<line x1="331.90" y1="270.16" x2="335.90" y2="270.16" stroke="#111" stroke-width="0.9"/>
<circle cx="333.90" cy="248.52" r="2.0" fill="#111"/>
<circle cx="333.90" cy="261.85" r="2.0" fill="#111"/>
<path d="M331.40 272.16L336.40 272.16L333.90 267.41Z" fill="#111"/>
<line x1="348.10" y1="232.39" x2="348.10" y2="257.62" stroke="#111" stroke-width="0.9"/>
<line x1="346.10" y1="232.39" x2="350.10" y2="232.39" stroke="#111" stroke-width="0.9"/>
<line x1="346.10" y1="257.62" x2="350.10" y2="257.62" stroke="#111" stroke-width="0.9"/>
<path d="M345.60 230.39L350.60 230.39L348.10 235.14Z" fill="#111"/>
<circle cx="348.10" cy="241.52" r="2.0" fill="#111"/>
<circle cx="348.10" cy="257.62" r="2.0" fill="#111"/>
<line x1="362.90" y1="243.33" x2="362.90" y2="259.72" stroke="#111" stroke-width="0.9"/>
<line x1="360.90" y1="243.33" x2="364.90" y2="243.33" stroke="#111" stroke-width="0.9"/>
<line x1="360.90" y1="259.72" x2="364.90" y2="259.72" stroke="#111" stroke-width="0.9"/>
<circle cx="362.90" cy="243.33" r="2.0" fill="#111"/>
<circle cx="359.60" cy="259.72" r="2.0" fill="#111"/>
<circle cx="366.20" cy="259.72" r="2.0" fill="#111"/>
<line x1="377.40" y1="251.93" x2="377.40" y2="266.66" stroke="#111" stroke-width="0.9"/>
<line x1="375.40" y1="251.93" x2="379.40" y2="251.93" stroke="#111" stroke-width="0.9"/>
<line x1="375.40" y1="266.66" x2="379.40" y2="266.66" stroke="#111" stroke-width="0.9"/>
<path d="M374.90 249.93L379.90 249.93L377.40 254.68Z" fill="#111"/>
<circle cx="377.40" cy="259.72" r="2.0" fill="#111"/>
<circle cx="377.40" cy="270.95" r="2.0" fill="#111"/>
<line x1="355.50" y1="216.30" x2="355.50" y2="307.00" stroke="#444" stroke-width="1.3" stroke-dasharray="4.9 5.2"/>
<line x1="295.80" y1="218.50" x2="295.80" y2="308.10" stroke="#2a2a2a" stroke-width="1.2"/>
<line x1="295.20" y1="307.50" x2="384.00" y2="307.50" stroke="#2a2a2a" stroke-width="1.2"/>
<line x1="292.80" y1="307.50" x2="295.80" y2="307.50" stroke="#2a2a2a" stroke-width="1.02"/>
<text x="289.70" y="309.80" font-size="6.4" text-anchor="end" fill="#333333" stroke="#333333" stroke-width="0.18">0</text>
<line x1="292.80" y1="292.92" x2="295.80" y2="292.92" stroke="#2a2a2a" stroke-width="1.02"/>
<text x="289.70" y="295.22" font-size="6.4" text-anchor="end" fill="#333333" stroke="#333333" stroke-width="0.18">50</text>
<line x1="292.80" y1="278.33" x2="295.80" y2="278.33" stroke="#2a2a2a" stroke-width="1.02"/>
<text x="289.70" y="280.63" font-size="6.4" text-anchor="end" fill="#333333" stroke="#333333" stroke-width="0.18">100</text>
<line x1="292.80" y1="263.75" x2="295.80" y2="263.75" stroke="#2a2a2a" stroke-width="1.02"/>
<text x="289.70" y="266.05" font-size="6.4" text-anchor="end" fill="#333333" stroke="#333333" stroke-width="0.18">150</text>
<line x1="292.80" y1="249.16" x2="295.80" y2="249.16" stroke="#2a2a2a" stroke-width="1.02"/>
<text x="289.70" y="251.46" font-size="6.4" text-anchor="end" fill="#333333" stroke="#333333" stroke-width="0.18">200</text>
<line x1="292.80" y1="234.57" x2="295.80" y2="234.57" stroke="#2a2a2a" stroke-width="1.02"/>
<text x="289.70" y="236.88" font-size="6.4" text-anchor="end" fill="#333333" stroke="#333333" stroke-width="0.18">250</text>
<line x1="292.80" y1="219.99" x2="295.80" y2="219.99" stroke="#2a2a2a" stroke-width="1.02"/>
<text x="289.70" y="222.29" font-size="6.4" text-anchor="end" fill="#333333" stroke="#333333" stroke-width="0.18">300</text>
<line x1="305.10" y1="307.50" x2="305.10" y2="309.70" stroke="#2a2a2a" stroke-width="1.02"/>
<line x1="319.40" y1="307.50" x2="319.40" y2="309.70" stroke="#2a2a2a" stroke-width="1.02"/>
<line x1="333.90" y1="307.50" x2="333.90" y2="309.70" stroke="#2a2a2a" stroke-width="1.02"/>
<line x1="348.10" y1="307.50" x2="348.10" y2="309.70" stroke="#2a2a2a" stroke-width="1.02"/>
<line x1="362.90" y1="307.50" x2="362.90" y2="309.70" stroke="#2a2a2a" stroke-width="1.02"/>
<line x1="377.40" y1="307.50" x2="377.40" y2="309.70" stroke="#2a2a2a" stroke-width="1.02"/>
<text x="305.10" y="319.60" font-size="6.6" text-anchor="middle" fill="#333333" stroke="#333333" stroke-width="0.18">C1</text>
<text x="319.40" y="319.60" font-size="6.6" text-anchor="middle" fill="#333333" stroke="#333333" stroke-width="0.18">C2</text>
<text x="333.90" y="319.60" font-size="6.6" text-anchor="middle" fill="#333333" stroke="#333333" stroke-width="0.18">C3</text>
<text x="348.10" y="319.60" font-size="6.6" text-anchor="middle" fill="#333333" stroke="#333333" stroke-width="0.18">C4</text>
<text x="362.90" y="319.60" font-size="6.6" text-anchor="middle" fill="#333333" stroke="#333333" stroke-width="0.18">CMo</text>
<text x="377.40" y="319.60" font-size="6.6" text-anchor="middle" fill="#333333" stroke="#333333" stroke-width="0.18">NC</text>
<path d="M304.30 195.40V193.10H333.50V195.40" fill="none" stroke="#2a2a2a" stroke-width="1.15"/>
<text x="319.20" y="192.30" font-size="8" text-anchor="middle" fill="#1a1a1a" font-weight="bold" letter-spacing="0.6">**</text>
<path d="M319.90 206.90V204.60H349.10V206.90" fill="none" stroke="#2a2a2a" stroke-width="1.15"/>
<text x="334.80" y="203.80" font-size="8" text-anchor="middle" fill="#1a1a1a" font-weight="bold" letter-spacing="0.6">***</text>
<path d="M304.30 218.70V216.40H319.90V218.70" fill="none" stroke="#2a2a2a" stroke-width="1.15"/>
<text x="312.40" y="215.60" font-size="8" text-anchor="middle" fill="#1a1a1a" font-weight="bold" letter-spacing="0.6">***</text>
<path d="M336.60 219.80V217.50H350.50V219.80" fill="none" stroke="#2a2a2a" stroke-width="1.15"/>
<text x="343.85" y="216.70" font-size="8" text-anchor="middle" fill="#1a1a1a" font-weight="bold" letter-spacing="0.6">**</text>
<text x="311.00" y="178.70" font-size="8.2" fill="#222" stroke="#222" stroke-width="0.18" text-anchor="start" textLength="58.00" lengthAdjust="spacingAndGlyphs">IL6 production</text>
<text x="273.40" y="261.60" font-size="8.4" text-anchor="middle" fill="#333333" stroke="#333333" stroke-width="0.18" textLength="74.20" lengthAdjust="spacingAndGlyphs" transform="rotate(-90 273.40 261.60)">IL-6 production (pg/mL)</text>
<rect x="430.52" y="243.70" width="8.75" height="63.70" fill="#154b88"/>
<rect x="445.02" y="293.57" width="8.75" height="13.82" fill="#fbb70c"/>
<rect x="459.23" y="262.77" width="8.75" height="44.62" fill="#3aaa3a"/>
<rect x="473.73" y="267.41" width="8.75" height="39.99" fill="#e8108a"/>
<rect x="488.73" y="289.46" width="8.75" height="17.94" fill="#d00c2c"/>
<rect x="503.12" y="271.70" width="8.75" height="35.70" fill="#d00c2c"/>
<line x1="434.90" y1="238.71" x2="434.90" y2="248.77" stroke="#111" stroke-width="0.9"/>
<line x1="432.90" y1="238.71" x2="436.90" y2="238.71" stroke="#111" stroke-width="0.9"/>
<line x1="432.90" y1="248.77" x2="436.90" y2="248.77" stroke="#111" stroke-width="0.9"/>
<circle cx="431.60" cy="241.34" r="2.0" fill="#111"/>
<circle cx="438.20" cy="238.45" r="2.0" fill="#111"/>
<circle cx="438.20" cy="243.96" r="2.0" fill="#111"/>
<circle cx="434.90" cy="248.86" r="2.0" fill="#111"/>
<line x1="449.40" y1="287.36" x2="449.40" y2="295.15" stroke="#111" stroke-width="0.9"/>
<line x1="447.40" y1="287.36" x2="451.40" y2="287.36" stroke="#111" stroke-width="0.9"/>
<line x1="447.40" y1="295.15" x2="451.40" y2="295.15" stroke="#111" stroke-width="0.9"/>
<circle cx="449.40" cy="285.61" r="2.0" fill="#111"/>
<circle cx="446.10" cy="291.39" r="2.0" fill="#111"/>
<circle cx="452.70" cy="291.65" r="2.0" fill="#111"/>
<circle cx="449.40" cy="295.15" r="2.0" fill="#111"/>
<line x1="463.60" y1="259.27" x2="463.60" y2="267.15" stroke="#111" stroke-width="0.9"/>
<line x1="461.60" y1="259.27" x2="465.60" y2="259.27" stroke="#111" stroke-width="0.9"/>
<line x1="461.60" y1="267.15" x2="465.60" y2="267.15" stroke="#111" stroke-width="0.9"/>
<circle cx="460.30" cy="261.29" r="2.0" fill="#111"/>
<circle cx="466.90" cy="258.66" r="2.0" fill="#111"/>
<circle cx="466.90" cy="264.44" r="2.0" fill="#111"/>
<circle cx="463.60" cy="268.29" r="2.0" fill="#111"/>
<line x1="478.10" y1="263.39" x2="478.10" y2="271.09" stroke="#111" stroke-width="0.9"/>
<line x1="476.10" y1="263.39" x2="480.10" y2="263.39" stroke="#111" stroke-width="0.9"/>
<line x1="476.10" y1="271.09" x2="480.10" y2="271.09" stroke="#111" stroke-width="0.9"/>
<circle cx="478.10" cy="261.72" r="2.0" fill="#111"/>
<circle cx="474.80" cy="266.54" r="2.0" fill="#111"/>
<circle cx="481.40" cy="267.41" r="2.0" fill="#111"/>
<circle cx="478.10" cy="271.44" r="2.0" fill="#111"/>
<line x1="493.10" y1="283.07" x2="493.10" y2="291.65" stroke="#111" stroke-width="0.9"/>
<line x1="491.10" y1="283.07" x2="495.10" y2="283.07" stroke="#111" stroke-width="0.9"/>
<line x1="491.10" y1="291.65" x2="495.10" y2="291.65" stroke="#111" stroke-width="0.9"/>
<circle cx="493.10" cy="280.71" r="2.0" fill="#111"/>
<circle cx="493.10" cy="285.61" r="2.0" fill="#111"/>
<circle cx="489.80" cy="289.02" r="2.0" fill="#111"/>
<circle cx="496.40" cy="289.46" r="2.0" fill="#111"/>
<line x1="507.50" y1="268.02" x2="507.50" y2="274.15" stroke="#111" stroke-width="0.9"/>
<line x1="505.50" y1="268.02" x2="509.50" y2="268.02" stroke="#111" stroke-width="0.9"/>
<line x1="505.50" y1="274.15" x2="509.50" y2="274.15" stroke="#111" stroke-width="0.9"/>
<circle cx="504.20" cy="267.94" r="2.0" fill="#111"/>
<circle cx="510.80" cy="270.30" r="2.0" fill="#111"/>
<circle cx="510.80" cy="271.09" r="2.0" fill="#111"/>
<circle cx="507.50" cy="273.10" r="2.0" fill="#111"/>
<line x1="485.30" y1="214.40" x2="485.30" y2="307.00" stroke="#444" stroke-width="1.3" stroke-dasharray="4.9 5.2"/>
<line x1="424.60" y1="217.00" x2="424.60" y2="308.00" stroke="#2a2a2a" stroke-width="1.2"/>
<line x1="424.00" y1="307.40" x2="514.80" y2="307.40" stroke="#2a2a2a" stroke-width="1.2"/>
<line x1="421.60" y1="307.40" x2="424.60" y2="307.40" stroke="#2a2a2a" stroke-width="1.02"/>
<text x="418.50" y="309.70" font-size="6.4" text-anchor="end" fill="#333333" stroke="#333333" stroke-width="0.18">0</text>
<line x1="421.60" y1="289.90" x2="424.60" y2="289.90" stroke="#2a2a2a" stroke-width="1.02"/>
<text x="418.50" y="292.20" font-size="6.4" text-anchor="end" fill="#333333" stroke="#333333" stroke-width="0.18">20</text>
<line x1="421.60" y1="272.40" x2="424.60" y2="272.40" stroke="#2a2a2a" stroke-width="1.02"/>
<text x="418.50" y="274.70" font-size="6.4" text-anchor="end" fill="#333333" stroke="#333333" stroke-width="0.18">40</text>
<line x1="421.60" y1="254.90" x2="424.60" y2="254.90" stroke="#2a2a2a" stroke-width="1.02"/>
<text x="418.50" y="257.20" font-size="6.4" text-anchor="end" fill="#333333" stroke="#333333" stroke-width="0.18">60</text>
<line x1="421.60" y1="237.40" x2="424.60" y2="237.40" stroke="#2a2a2a" stroke-width="1.02"/>
<text x="418.50" y="239.70" font-size="6.4" text-anchor="end" fill="#333333" stroke="#333333" stroke-width="0.18">80</text>
<line x1="421.60" y1="219.90" x2="424.60" y2="219.90" stroke="#2a2a2a" stroke-width="1.02"/>
<text x="418.50" y="222.20" font-size="6.4" text-anchor="end" fill="#333333" stroke="#333333" stroke-width="0.18">100</text>
<line x1="434.90" y1="307.40" x2="434.90" y2="309.60" stroke="#2a2a2a" stroke-width="1.02"/>
<line x1="449.40" y1="307.40" x2="449.40" y2="309.60" stroke="#2a2a2a" stroke-width="1.02"/>
<line x1="463.60" y1="307.40" x2="463.60" y2="309.60" stroke="#2a2a2a" stroke-width="1.02"/>
<line x1="478.10" y1="307.40" x2="478.10" y2="309.60" stroke="#2a2a2a" stroke-width="1.02"/>
<line x1="493.10" y1="307.40" x2="493.10" y2="309.60" stroke="#2a2a2a" stroke-width="1.02"/>
<line x1="507.50" y1="307.40" x2="507.50" y2="309.60" stroke="#2a2a2a" stroke-width="1.02"/>
<text x="434.90" y="319.60" font-size="6.6" text-anchor="middle" fill="#333333" stroke="#333333" stroke-width="0.18">C1</text>
<text x="449.40" y="319.60" font-size="6.6" text-anchor="middle" fill="#333333" stroke="#333333" stroke-width="0.18">C2</text>
<text x="463.60" y="319.60" font-size="6.6" text-anchor="middle" fill="#333333" stroke="#333333" stroke-width="0.18">C3</text>
<text x="478.10" y="319.60" font-size="6.6" text-anchor="middle" fill="#333333" stroke="#333333" stroke-width="0.18">C4</text>
<text x="493.10" y="319.60" font-size="6.6" text-anchor="middle" fill="#333333" stroke="#333333" stroke-width="0.18">CMo</text>
<text x="507.50" y="319.60" font-size="6.6" text-anchor="middle" fill="#333333" stroke="#333333" stroke-width="0.18">NC</text>
<path d="M431.70 202.10V199.80H478.30V202.10" fill="none" stroke="#2a2a2a" stroke-width="1.15"/>
<text x="455.30" y="199.00" font-size="8" text-anchor="middle" fill="#1a1a1a" font-weight="bold" letter-spacing="0.6">***</text>
<path d="M431.70 212.10V209.80H463.30V212.10" fill="none" stroke="#2a2a2a" stroke-width="1.15"/>
<text x="447.80" y="209.00" font-size="8" text-anchor="middle" fill="#1a1a1a" font-weight="bold" letter-spacing="0.6">***</text>
<path d="M431.70 223.10V220.80H447.50V223.10" fill="none" stroke="#2a2a2a" stroke-width="1.15"/>
<text x="439.90" y="220.00" font-size="8" text-anchor="middle" fill="#1a1a1a" font-weight="bold" letter-spacing="0.6">***</text>
<path d="M447.10 232.10V229.80H478.10V232.10" fill="none" stroke="#2a2a2a" stroke-width="1.15"/>
<text x="462.90" y="229.00" font-size="8" text-anchor="middle" fill="#1a1a1a" font-weight="bold" letter-spacing="0.6">***</text>
<path d="M447.10 242.70V240.40H462.50V242.70" fill="none" stroke="#2a2a2a" stroke-width="1.15"/>
<text x="455.10" y="239.60" font-size="8" text-anchor="middle" fill="#1a1a1a" font-weight="bold" letter-spacing="0.6">***</text>
<path d="M493.60 261.60V259.30H508.30V261.60" fill="none" stroke="#2a2a2a" stroke-width="1.15"/>
<text x="501.25" y="258.50" font-size="8" text-anchor="middle" fill="#1a1a1a" font-weight="bold" letter-spacing="0.6">***</text>
<text x="425.00" y="178.70" font-size="8.2" fill="#222" stroke="#222" stroke-width="0.18" text-anchor="start" textLength="85.50" lengthAdjust="spacingAndGlyphs">TNF-alpha production</text>
<text x="401.60" y="261.70" font-size="8.4" text-anchor="middle" fill="#333333" stroke="#333333" stroke-width="0.18" textLength="89.70" lengthAdjust="spacingAndGlyphs" transform="rotate(-90 401.60 261.70)">TNFalpha production (pg/mL)</text>
<rect x="37.35" y="420.63" width="5.50" height="49.47" fill="#c6c6c6"/>
<rect x="46.95" y="442.21" width="5.50" height="27.89" fill="#d00c2c"/>
<rect x="62.95" y="410.45" width="5.50" height="59.65" fill="#c6c6c6"/>
<rect x="72.75" y="434.45" width="5.50" height="35.65" fill="#d00c2c"/>
<rect x="88.85" y="389.11" width="5.50" height="81.00" fill="#c6c6c6"/>
<rect x="99.05" y="442.21" width="5.50" height="27.89" fill="#d00c2c"/>
<rect x="114.85" y="402.44" width="5.50" height="67.66" fill="#c6c6c6"/>
<rect x="124.55" y="438.82" width="5.50" height="31.28" fill="#d00c2c"/>
<rect x="140.95" y="415.54" width="5.50" height="54.56" fill="#c6c6c6"/>
<rect x="150.85" y="441.24" width="5.50" height="28.86" fill="#d00c2c"/>
<rect x="166.65" y="431.54" width="5.50" height="38.56" fill="#c6c6c6"/>
<rect x="176.65" y="452.16" width="5.50" height="17.94" fill="#d00c2c"/>
<line x1="40.10" y1="412.87" x2="40.10" y2="428.88" stroke="#111" stroke-width="0.9"/>
<line x1="38.60" y1="412.87" x2="41.60" y2="412.87" stroke="#111" stroke-width="0.9"/>
<line x1="38.60" y1="428.88" x2="41.60" y2="428.88" stroke="#111" stroke-width="0.9"/>
<circle cx="40.10" cy="413.84" r="2.0" fill="#111"/>
<circle cx="37.90" cy="418.93" r="2.0" fill="#111"/>
<circle cx="42.30" cy="418.93" r="2.0" fill="#111"/>
<circle cx="40.10" cy="431.30" r="2.0" fill="#111"/>
<line x1="49.70" y1="439.06" x2="49.70" y2="444.40" stroke="#111" stroke-width="0.9"/>
<line x1="48.20" y1="439.06" x2="51.20" y2="439.06" stroke="#111" stroke-width="0.9"/>
<line x1="48.20" y1="444.40" x2="51.20" y2="444.40" stroke="#111" stroke-width="0.9"/>
<circle cx="51.90" cy="438.33" r="2.0" fill="#111"/>
<circle cx="49.70" cy="441.24" r="2.0" fill="#111"/>
<circle cx="47.50" cy="444.88" r="2.0" fill="#111"/>
<circle cx="49.70" cy="444.88" r="2.0" fill="#111"/>
<line x1="65.70" y1="403.66" x2="65.70" y2="417.24" stroke="#111" stroke-width="0.9"/>
<line x1="64.20" y1="403.66" x2="67.20" y2="403.66" stroke="#111" stroke-width="0.9"/>
<line x1="64.20" y1="417.24" x2="67.20" y2="417.24" stroke="#111" stroke-width="0.9"/>
<circle cx="65.70" cy="401.72" r="2.0" fill="#111"/>
<circle cx="63.50" cy="409.48" r="2.0" fill="#111"/>
<circle cx="67.90" cy="411.42" r="2.0" fill="#111"/>
<circle cx="65.70" cy="418.93" r="2.0" fill="#111"/>
<line x1="75.50" y1="433.00" x2="75.50" y2="436.15" stroke="#111" stroke-width="0.9"/>
<line x1="74.00" y1="433.00" x2="77.00" y2="433.00" stroke="#111" stroke-width="0.9"/>
<line x1="74.00" y1="436.15" x2="77.00" y2="436.15" stroke="#111" stroke-width="0.9"/>
<circle cx="73.30" cy="433.00" r="2.0" fill="#111"/>
<circle cx="77.70" cy="433.00" r="2.0" fill="#111"/>
<circle cx="75.50" cy="435.42" r="2.0" fill="#111"/>
<circle cx="75.50" cy="436.15" r="2.0" fill="#111"/>
<line x1="91.60" y1="379.65" x2="91.60" y2="397.84" stroke="#111" stroke-width="0.9"/>
<line x1="90.10" y1="379.65" x2="93.10" y2="379.65" stroke="#111" stroke-width="0.9"/>
<line x1="90.10" y1="397.84" x2="93.10" y2="397.84" stroke="#111" stroke-width="0.9"/>
<circle cx="91.60" cy="374.80" r="2.0" fill="#111"/>
<circle cx="89.40" cy="392.99" r="2.0" fill="#111"/>
<circle cx="93.80" cy="393.96" r="2.0" fill="#111"/>
<circle cx="91.60" cy="394.93" r="2.0" fill="#111"/>
<line x1="101.80" y1="439.06" x2="101.80" y2="445.37" stroke="#111" stroke-width="0.9"/>
<line x1="100.30" y1="439.06" x2="103.30" y2="439.06" stroke="#111" stroke-width="0.9"/>
<line x1="100.30" y1="445.37" x2="103.30" y2="445.37" stroke="#111" stroke-width="0.9"/>
<circle cx="99.60" cy="440.27" r="2.0" fill="#111"/>
<circle cx="104.00" cy="437.61" r="2.0" fill="#111"/>
<circle cx="99.60" cy="445.37" r="2.0" fill="#111"/>
<circle cx="104.00" cy="445.37" r="2.0" fill="#111"/>
<line x1="117.60" y1="385.23" x2="117.60" y2="419.66" stroke="#111" stroke-width="0.9"/>
<line x1="116.10" y1="385.23" x2="119.10" y2="385.23" stroke="#111" stroke-width="0.9"/>
<line x1="116.10" y1="419.66" x2="119.10" y2="419.66" stroke="#111" stroke-width="0.9"/>
<circle cx="117.60" cy="384.98" r="2.0" fill="#111"/>
<circle cx="117.60" cy="392.01" r="2.0" fill="#111"/>
<circle cx="117.60" cy="409.48" r="2.0" fill="#111"/>
<circle cx="117.60" cy="423.78" r="2.0" fill="#111"/>
<line x1="127.30" y1="434.45" x2="127.30" y2="442.70" stroke="#111" stroke-width="0.9"/>
<line x1="125.80" y1="434.45" x2="128.80" y2="434.45" stroke="#111" stroke-width="0.9"/>
<line x1="125.80" y1="442.70" x2="128.80" y2="442.70" stroke="#111" stroke-width="0.9"/>
<circle cx="127.30" cy="431.30" r="2.0" fill="#111"/>
<circle cx="127.30" cy="438.33" r="2.0" fill="#111"/>
<circle cx="125.10" cy="442.70" r="2.0" fill="#111"/>
<circle cx="129.50" cy="442.70" r="2.0" fill="#111"/>
<line x1="143.70" y1="405.35" x2="143.70" y2="425.24" stroke="#111" stroke-width="0.9"/>
<line x1="142.20" y1="405.35" x2="145.20" y2="405.35" stroke="#111" stroke-width="0.9"/>
<line x1="142.20" y1="425.24" x2="145.20" y2="425.24" stroke="#111" stroke-width="0.9"/>
<circle cx="143.70" cy="401.72" r="2.0" fill="#111"/>
<circle cx="142.20" cy="416.02" r="2.0" fill="#111"/>
<circle cx="145.20" cy="418.69" r="2.0" fill="#111"/>
<circle cx="143.70" cy="426.21" r="2.0" fill="#111"/>
<line x1="153.60" y1="437.85" x2="153.60" y2="445.85" stroke="#111" stroke-width="0.9"/>
<line x1="152.10" y1="437.85" x2="155.10" y2="437.85" stroke="#111" stroke-width="0.9"/>
<line x1="152.10" y1="445.85" x2="155.10" y2="445.85" stroke="#111" stroke-width="0.9"/>
<circle cx="152.10" cy="437.85" r="2.0" fill="#111"/>
<circle cx="155.10" cy="440.27" r="2.0" fill="#111"/>
<circle cx="153.60" cy="447.31" r="2.0" fill="#111"/>
<line x1="169.40" y1="424.51" x2="169.40" y2="438.58" stroke="#111" stroke-width="0.9"/>
<line x1="167.90" y1="424.51" x2="170.90" y2="424.51" stroke="#111" stroke-width="0.9"/>
<line x1="167.90" y1="438.58" x2="170.90" y2="438.58" stroke="#111" stroke-width="0.9"/>
<circle cx="169.40" cy="423.78" r="2.0" fill="#111"/>
<circle cx="169.40" cy="428.39" r="2.0" fill="#111"/>
<circle cx="169.40" cy="433.48" r="2.0" fill="#111"/>
<circle cx="169.40" cy="440.52" r="2.0" fill="#111"/>
<line x1="179.40" y1="448.28" x2="179.40" y2="456.04" stroke="#111" stroke-width="0.9"/>
<line x1="177.90" y1="448.28" x2="180.90" y2="448.28" stroke="#111" stroke-width="0.9"/>
<line x1="177.90" y1="456.04" x2="180.90" y2="456.04" stroke="#111" stroke-width="0.9"/>
<circle cx="180.90" cy="447.79" r="2.0" fill="#111"/>
<circle cx="177.90" cy="450.22" r="2.0" fill="#111"/>
<circle cx="180.90" cy="452.64" r="2.0" fill="#111"/>
<circle cx="179.40" cy="457.73" r="2.0" fill="#111"/>
<line x1="136.30" y1="377.60" x2="136.30" y2="470.00" stroke="#444" stroke-width="1.3" stroke-dasharray="4.9 5.2"/>
<line x1="33.10" y1="368.00" x2="33.10" y2="470.70" stroke="#2a2a2a" stroke-width="1.2"/>
<line x1="32.50" y1="470.10" x2="186.30" y2="470.10" stroke="#2a2a2a" stroke-width="1.2"/>
<line x1="30.10" y1="470.10" x2="33.10" y2="470.10" stroke="#2a2a2a" stroke-width="1.02"/>
<text x="27.00" y="472.40" font-size="6.4" text-anchor="end" fill="#333333" stroke="#333333" stroke-width="0.18">0</text>
<line x1="30.10" y1="445.85" x2="33.10" y2="445.85" stroke="#2a2a2a" stroke-width="1.02"/>
<text x="27.00" y="448.15" font-size="6.4" text-anchor="end" fill="#333333" stroke="#333333" stroke-width="0.18">10</text>
<line x1="30.10" y1="421.60" x2="33.10" y2="421.60" stroke="#2a2a2a" stroke-width="1.02"/>
<text x="27.00" y="423.90" font-size="6.4" text-anchor="end" fill="#333333" stroke="#333333" stroke-width="0.18">20</text>
<line x1="30.10" y1="397.35" x2="33.10" y2="397.35" stroke="#2a2a2a" stroke-width="1.02"/>
<text x="27.00" y="399.65" font-size="6.4" text-anchor="end" fill="#333333" stroke="#333333" stroke-width="0.18">30</text>
<line x1="30.10" y1="373.10" x2="33.10" y2="373.10" stroke="#2a2a2a" stroke-width="1.02"/>
<text x="27.00" y="375.40" font-size="6.4" text-anchor="end" fill="#333333" stroke="#333333" stroke-width="0.18">40</text>
<line x1="44.90" y1="470.10" x2="44.90" y2="472.30" stroke="#2a2a2a" stroke-width="1.02"/>
<line x1="70.60" y1="470.10" x2="70.60" y2="472.30" stroke="#2a2a2a" stroke-width="1.02"/>
<line x1="96.70" y1="470.10" x2="96.70" y2="472.30" stroke="#2a2a2a" stroke-width="1.02"/>
<line x1="122.45" y1="470.10" x2="122.45" y2="472.30" stroke="#2a2a2a" stroke-width="1.02"/>
<line x1="148.65" y1="470.10" x2="148.65" y2="472.30" stroke="#2a2a2a" stroke-width="1.02"/>
<line x1="174.40" y1="470.10" x2="174.40" y2="472.30" stroke="#2a2a2a" stroke-width="1.02"/>
<text x="44.90" y="482.30" font-size="6.6" text-anchor="middle" fill="#3a6ea8" stroke="#3a6ea8" stroke-width="0.18">C1</text>
<text x="70.60" y="482.30" font-size="6.6" text-anchor="middle" fill="#f0c030" stroke="#f0c030" stroke-width="0.18">C2</text>
<text x="96.70" y="482.30" font-size="6.6" text-anchor="middle" fill="#55b055" stroke="#55b055" stroke-width="0.18">C3</text>
<text x="122.45" y="482.30" font-size="6.6" text-anchor="middle" fill="#e040a0" stroke="#e040a0" stroke-width="0.18">C4</text>
<text x="148.65" y="482.30" font-size="6.6" text-anchor="middle" fill="#333333" stroke="#333333" stroke-width="0.18">CMo</text>
<text x="174.40" y="482.30" font-size="6.6" text-anchor="middle" fill="#333333" stroke="#333333" stroke-width="0.18">NC</text>
<path d="M38.75 347.80V345.50H118.75V347.80" fill="none" stroke="#2a2a2a" stroke-width="1.15"/>
<text x="79.05" y="344.70" font-size="8" text-anchor="middle" fill="#1a1a1a" font-weight="bold" letter-spacing="0.6">*</text>
<path d="M38.75 359.80V357.50H89.50V359.80" fill="none" stroke="#2a2a2a" stroke-width="1.15"/>
<text x="64.42" y="356.70" font-size="8" text-anchor="middle" fill="#1a1a1a" font-weight="bold" letter-spacing="0.6">**</text>
<path d="M64.50 371.60V369.30H89.50V371.60" fill="none" stroke="#2a2a2a" stroke-width="1.15"/>
<text x="77.30" y="368.50" font-size="8" text-anchor="middle" fill="#1a1a1a" font-weight="bold" letter-spacing="0.6">*</text>
<path d="M92.50 371.60V369.30H118.75V371.60" fill="none" stroke="#2a2a2a" stroke-width="1.15"/>
<text x="105.92" y="368.50" font-size="8" text-anchor="middle" fill="#1a1a1a" font-weight="bold" letter-spacing="0.6">*</text>
<path d="M144.30 395.00V392.70H170.50V395.00" fill="none" stroke="#2a2a2a" stroke-width="1.15"/>
<text x="157.70" y="391.90" font-size="8" text-anchor="middle" fill="#1a1a1a" font-weight="bold" letter-spacing="0.6">*</text>
<text x="102.00" y="333.80" font-size="8.2" fill="#222" stroke="#222" stroke-width="0.18" text-anchor="start" textLength="17.00" lengthAdjust="spacingAndGlyphs">ROS</text>
<text x="13.40" y="419.20" font-size="8.4" text-anchor="middle" fill="#333333" stroke="#333333" stroke-width="0.18" textLength="112.30" lengthAdjust="spacingAndGlyphs" transform="rotate(-90 13.40 419.20)">Relative ROS production levels (fold)</text>
<rect x="41.15" y="549.98" width="11.30" height="83.32" fill="#154b88"/>
<rect x="60.45" y="576.26" width="11.30" height="57.04" fill="#fbb70c"/>
<rect x="79.85" y="543.05" width="11.30" height="90.25" fill="#3aaa3a"/>
<rect x="98.95" y="572.36" width="11.30" height="60.94" fill="#e8108a"/>
<rect x="118.45" y="558.50" width="11.30" height="74.80" fill="#d00c2c"/>
<rect x="137.85" y="620.59" width="11.30" height="12.71" fill="#d00c2c"/>
<rect x="157.25" y="624.20" width="11.30" height="9.10" fill="#d00c2c"/>
<rect x="176.55" y="550.85" width="11.30" height="82.45" fill="#d00c2c"/>
<line x1="46.80" y1="543.05" x2="46.80" y2="556.77" stroke="#111" stroke-width="0.9"/>
<line x1="44.50" y1="543.05" x2="49.10" y2="543.05" stroke="#111" stroke-width="0.9"/>
<line x1="44.50" y1="556.77" x2="49.10" y2="556.77" stroke="#111" stroke-width="0.9"/>
<circle cx="42.50" cy="542.33" r="2.0" fill="#111"/>
<circle cx="51.10" cy="544.64" r="2.0" fill="#111"/>
<circle cx="42.50" cy="548.10" r="2.0" fill="#111"/>
<circle cx="46.80" cy="553.16" r="2.0" fill="#111"/>
<circle cx="46.80" cy="557.63" r="2.0" fill="#111"/>
<line x1="66.10" y1="569.48" x2="66.10" y2="580.74" stroke="#111" stroke-width="0.9"/>
<line x1="63.80" y1="569.48" x2="68.40" y2="569.48" stroke="#111" stroke-width="0.9"/>
<line x1="63.80" y1="580.74" x2="68.40" y2="580.74" stroke="#111" stroke-width="0.9"/>
<circle cx="66.10" cy="568.03" r="2.0" fill="#111"/>
<circle cx="61.60" cy="572.80" r="2.0" fill="#111"/>
<circle cx="70.40" cy="573.81" r="2.0" fill="#111"/>
<circle cx="66.10" cy="575.40" r="2.0" fill="#111"/>
<circle cx="66.10" cy="583.77" r="2.0" fill="#111"/>
<line x1="85.50" y1="530.78" x2="85.50" y2="554.60" stroke="#111" stroke-width="0.9"/>
<line x1="83.20" y1="530.78" x2="87.80" y2="530.78" stroke="#111" stroke-width="0.9"/>
<line x1="83.20" y1="554.60" x2="87.80" y2="554.60" stroke="#111" stroke-width="0.9"/>
<circle cx="85.50" cy="528.47" r="2.0" fill="#111"/>
<circle cx="85.50" cy="533.81" r="2.0" fill="#111"/>
<circle cx="81.20" cy="542.33" r="2.0" fill="#111"/>
<circle cx="89.80" cy="542.33" r="2.0" fill="#111"/>
<circle cx="85.50" cy="562.26" r="2.0" fill="#111"/>
<line x1="104.60" y1="559.66" x2="104.60" y2="581.46" stroke="#111" stroke-width="0.9"/>
<line x1="102.30" y1="559.66" x2="106.90" y2="559.66" stroke="#111" stroke-width="0.9"/>
<line x1="102.30" y1="581.46" x2="106.90" y2="581.46" stroke="#111" stroke-width="0.9"/>
<circle cx="100.30" cy="559.66" r="2.0" fill="#111"/>
<circle cx="108.90" cy="560.81" r="2.0" fill="#111"/>
<circle cx="100.30" cy="571.50" r="2.0" fill="#111"/>
<circle cx="108.90" cy="573.09" r="2.0" fill="#111"/>
<circle cx="104.60" cy="586.95" r="2.0" fill="#111"/>
<line x1="124.10" y1="548.97" x2="124.10" y2="567.60" stroke="#111" stroke-width="0.9"/>
<line x1="121.80" y1="548.97" x2="126.40" y2="548.97" stroke="#111" stroke-width="0.9"/>
<line x1="121.80" y1="567.60" x2="126.40" y2="567.60" stroke="#111" stroke-width="0.9"/>
<circle cx="124.10" cy="544.78" r="2.0" fill="#111"/>
<circle cx="119.80" cy="554.89" r="2.0" fill="#111"/>
<circle cx="128.40" cy="558.21" r="2.0" fill="#111"/>
<circle cx="124.10" cy="558.93" r="2.0" fill="#111"/>
<circle cx="124.10" cy="568.03" r="2.0" fill="#111"/>
<line x1="143.50" y1="607.45" x2="143.50" y2="633.30" stroke="#111" stroke-width="0.9"/>
<line x1="141.20" y1="607.45" x2="145.80" y2="607.45" stroke="#111" stroke-width="0.9"/>
<line x1="141.20" y1="633.30" x2="145.80" y2="633.30" stroke="#111" stroke-width="0.9"/>
<circle cx="143.50" cy="601.68" r="2.0" fill="#111"/>
<circle cx="143.50" cy="611.64" r="2.0" fill="#111"/>
<circle cx="143.50" cy="626.08" r="2.0" fill="#111"/>
<circle cx="139.20" cy="629.26" r="2.0" fill="#111"/>
<circle cx="147.80" cy="627.96" r="2.0" fill="#111"/>
<line x1="162.90" y1="613.08" x2="162.90" y2="633.30" stroke="#111" stroke-width="0.9"/>
<line x1="160.60" y1="613.08" x2="165.20" y2="613.08" stroke="#111" stroke-width="0.9"/>
<line x1="160.60" y1="633.30" x2="165.20" y2="633.30" stroke="#111" stroke-width="0.9"/>
<circle cx="160.30" cy="609.91" r="2.0" fill="#111"/>
<circle cx="165.50" cy="611.35" r="2.0" fill="#111"/>
<circle cx="158.60" cy="630.56" r="2.0" fill="#111"/>
<circle cx="162.90" cy="630.56" r="2.0" fill="#111"/>
<circle cx="167.20" cy="630.56" r="2.0" fill="#111"/>
<line x1="182.20" y1="539.30" x2="182.20" y2="561.82" stroke="#111" stroke-width="0.9"/>
<line x1="179.90" y1="539.30" x2="184.50" y2="539.30" stroke="#111" stroke-width="0.9"/>
<line x1="179.90" y1="561.82" x2="184.50" y2="561.82" stroke="#111" stroke-width="0.9"/>
<circle cx="182.20" cy="536.12" r="2.0" fill="#111"/>
<circle cx="182.20" cy="542.91" r="2.0" fill="#111"/>
<circle cx="182.20" cy="548.39" r="2.0" fill="#111"/>
<circle cx="182.20" cy="558.50" r="2.0" fill="#111"/>
<circle cx="182.20" cy="562.54" r="2.0" fill="#111"/>
<line x1="115.50" y1="525.40" x2="115.50" y2="633.00" stroke="#444" stroke-width="1.3" stroke-dasharray="4.9 5.2"/>
<line x1="34.10" y1="529.30" x2="34.10" y2="633.90" stroke="#2a2a2a" stroke-width="1.2"/>
<line x1="33.50" y1="633.30" x2="190.40" y2="633.30" stroke="#2a2a2a" stroke-width="1.2"/>
<line x1="31.10" y1="633.30" x2="34.10" y2="633.30" stroke="#2a2a2a" stroke-width="1.02"/>
<text x="28.00" y="635.60" font-size="6.4" text-anchor="end" fill="#333333" stroke="#333333" stroke-width="0.18">0</text>
<line x1="31.10" y1="618.86" x2="34.10" y2="618.86" stroke="#2a2a2a" stroke-width="1.02"/>
<text x="28.00" y="621.16" font-size="6.4" text-anchor="end" fill="#333333" stroke="#333333" stroke-width="0.18">10</text>
<line x1="31.10" y1="604.42" x2="34.10" y2="604.42" stroke="#2a2a2a" stroke-width="1.02"/>
<text x="28.00" y="606.72" font-size="6.4" text-anchor="end" fill="#333333" stroke="#333333" stroke-width="0.18">20</text>
<line x1="31.10" y1="589.98" x2="34.10" y2="589.98" stroke="#2a2a2a" stroke-width="1.02"/>
<text x="28.00" y="592.28" font-size="6.4" text-anchor="end" fill="#333333" stroke="#333333" stroke-width="0.18">30</text>
<line x1="31.10" y1="575.54" x2="34.10" y2="575.54" stroke="#2a2a2a" stroke-width="1.02"/>
<text x="28.00" y="577.84" font-size="6.4" text-anchor="end" fill="#333333" stroke="#333333" stroke-width="0.18">40</text>
<line x1="31.10" y1="561.10" x2="34.10" y2="561.10" stroke="#2a2a2a" stroke-width="1.02"/>
<text x="28.00" y="563.40" font-size="6.4" text-anchor="end" fill="#333333" stroke="#333333" stroke-width="0.18">50</text>
<line x1="31.10" y1="546.66" x2="34.10" y2="546.66" stroke="#2a2a2a" stroke-width="1.02"/>
<text x="28.00" y="548.96" font-size="6.4" text-anchor="end" fill="#333333" stroke="#333333" stroke-width="0.18">60</text>
<line x1="31.10" y1="532.22" x2="34.10" y2="532.22" stroke="#2a2a2a" stroke-width="1.02"/>
<text x="28.00" y="534.52" font-size="6.4" text-anchor="end" fill="#333333" stroke="#333333" stroke-width="0.18">70</text>
<line x1="46.80" y1="633.30" x2="46.80" y2="635.50" stroke="#2a2a2a" stroke-width="1.02"/>
<line x1="66.10" y1="633.30" x2="66.10" y2="635.50" stroke="#2a2a2a" stroke-width="1.02"/>
<line x1="85.50" y1="633.30" x2="85.50" y2="635.50" stroke="#2a2a2a" stroke-width="1.02"/>
<line x1="104.60" y1="633.30" x2="104.60" y2="635.50" stroke="#2a2a2a" stroke-width="1.02"/>
<line x1="124.10" y1="633.30" x2="124.10" y2="635.50" stroke="#2a2a2a" stroke-width="1.02"/>
<line x1="143.50" y1="633.30" x2="143.50" y2="635.50" stroke="#2a2a2a" stroke-width="1.02"/>
<line x1="162.90" y1="633.30" x2="162.90" y2="635.50" stroke="#2a2a2a" stroke-width="1.02"/>
<line x1="182.20" y1="633.30" x2="182.20" y2="635.50" stroke="#2a2a2a" stroke-width="1.02"/>
<text x="46.80" y="646.00" font-size="6.6" text-anchor="middle" fill="#333333" stroke="#333333" stroke-width="0.18">C1</text>
<text x="66.10" y="646.00" font-size="6.6" text-anchor="middle" fill="#333333" stroke="#333333" stroke-width="0.18">C2</text>
<text x="85.50" y="646.00" font-size="6.6" text-anchor="middle" fill="#333333" stroke="#333333" stroke-width="0.18">C3</text>
<text x="104.60" y="646.00" font-size="6.6" text-anchor="middle" fill="#333333" stroke="#333333" stroke-width="0.18">C4</text>
<text x="124.10" y="646.00" font-size="6.6" text-anchor="middle" fill="#333333" stroke="#333333" stroke-width="0.18">CMo</text>
<text x="143.50" y="646.00" font-size="6.6" text-anchor="middle" fill="#333333" stroke="#333333" stroke-width="0.18">Int</text>
<text x="162.90" y="646.00" font-size="6.6" text-anchor="middle" fill="#333333" stroke="#333333" stroke-width="0.18">NC</text>
<text x="182.20" y="646.00" font-size="6.6" text-anchor="middle" fill="#333333" stroke="#333333" stroke-width="0.18">Neut</text>
<path d="M47.30 512.30V510.00H107.20V512.30" fill="none" stroke="#2a2a2a" stroke-width="1.15"/>
<text x="77.55" y="509.20" font-size="8" text-anchor="middle" fill="#1a1a1a" font-weight="bold" letter-spacing="0.6">*</text>
<path d="M47.30 524.10V521.80H67.30V524.10" fill="none" stroke="#2a2a2a" stroke-width="1.15"/>
<text x="57.60" y="521.00" font-size="8" text-anchor="middle" fill="#1a1a1a" font-weight="bold" letter-spacing="0.6">*</text>
<path d="M67.30 524.10V521.80H87.80V524.10" fill="none" stroke="#2a2a2a" stroke-width="1.15"/>
<text x="77.85" y="521.00" font-size="8" text-anchor="middle" fill="#1a1a1a" font-weight="bold" letter-spacing="0.6">**</text>
<path d="M87.80 524.10V521.80H107.20V524.10" fill="none" stroke="#2a2a2a" stroke-width="1.15"/>
<text x="97.80" y="521.00" font-size="8" text-anchor="middle" fill="#1a1a1a" font-weight="bold" letter-spacing="0.6">**</text>
<path d="M143.90 516.90V514.60H183.00V516.90" fill="none" stroke="#2a2a2a" stroke-width="1.15"/>
<text x="163.75" y="513.80" font-size="8" text-anchor="middle" fill="#1a1a1a" font-weight="bold" letter-spacing="0.6">***</text>
<path d="M124.10 527.80V525.50H163.80V527.80" fill="none" stroke="#2a2a2a" stroke-width="1.15"/>
<text x="144.25" y="524.70" font-size="8" text-anchor="middle" fill="#1a1a1a" font-weight="bold" letter-spacing="0.6">***</text>
<path d="M163.80 527.80V525.50H183.70V527.80" fill="none" stroke="#2a2a2a" stroke-width="1.15"/>
<text x="174.05" y="524.70" font-size="8" text-anchor="middle" fill="#1a1a1a" font-weight="bold" letter-spacing="0.6">***</text>
<path d="M124.10 539.70V537.40H143.40V539.70" fill="none" stroke="#2a2a2a" stroke-width="1.15"/>
<text x="134.05" y="536.60" font-size="8" text-anchor="middle" fill="#1a1a1a" font-weight="bold" letter-spacing="0.6">***</text>
<text x="57.00" y="500.70" font-size="8.2" fill="#222" stroke="#222" stroke-width="0.18" text-anchor="start" textLength="109.00" lengthAdjust="spacingAndGlyphs"><tspan font-style="italic">E.coli</tspan> killing - human blood</text>
<text x="15.10" y="581.40" font-size="8.4" text-anchor="middle" fill="#333333" stroke="#333333" stroke-width="0.18" textLength="34.00" lengthAdjust="spacingAndGlyphs" transform="rotate(-90 15.10 581.40)">% of killing</text>
<rect x="300.45" y="543.89" width="11.50" height="89.41" fill="#154b88"/>
<rect x="319.85" y="567.78" width="11.50" height="65.52" fill="#fbb70c"/>
<rect x="339.25" y="615.38" width="11.50" height="17.92" fill="#3aaa3a"/>
<rect x="358.35" y="557.28" width="11.50" height="76.02" fill="#e8108a"/>
<rect x="377.55" y="578.64" width="11.50" height="54.66" fill="#d00c2c"/>
<rect x="396.85" y="627.33" width="11.50" height="5.97" fill="#d00c2c"/>
<rect x="416.15" y="578.09" width="11.50" height="55.21" fill="#d00c2c"/>
<rect x="435.65" y="567.96" width="11.50" height="65.34" fill="#d00c2c"/>
<line x1="306.20" y1="531.58" x2="306.20" y2="552.75" stroke="#111" stroke-width="0.9"/>
<line x1="303.90" y1="531.58" x2="308.50" y2="531.58" stroke="#111" stroke-width="0.9"/>
<line x1="303.90" y1="552.75" x2="308.50" y2="552.75" stroke="#111" stroke-width="0.9"/>
<circle cx="301.90" cy="531.58" r="2.0" fill="#111"/>
<circle cx="310.50" cy="533.57" r="2.0" fill="#111"/>
<circle cx="306.20" cy="540.81" r="2.0" fill="#111"/>
<circle cx="306.20" cy="547.87" r="2.0" fill="#111"/>
<circle cx="306.20" cy="558.18" r="2.0" fill="#111"/>
<line x1="325.60" y1="557.28" x2="325.60" y2="573.57" stroke="#111" stroke-width="0.9"/>
<line x1="323.30" y1="557.28" x2="327.90" y2="557.28" stroke="#111" stroke-width="0.9"/>
<line x1="323.30" y1="573.57" x2="327.90" y2="573.57" stroke="#111" stroke-width="0.9"/>
<circle cx="321.30" cy="557.28" r="2.0" fill="#111"/>
<circle cx="329.90" cy="557.28" r="2.0" fill="#111"/>
<circle cx="321.30" cy="569.23" r="2.0" fill="#111"/>
<circle cx="329.90" cy="571.58" r="2.0" fill="#111"/>
<circle cx="325.60" cy="577.19" r="2.0" fill="#111"/>
<line x1="345.00" y1="605.43" x2="345.00" y2="623.34" stroke="#111" stroke-width="0.9"/>
<line x1="342.70" y1="605.43" x2="347.30" y2="605.43" stroke="#111" stroke-width="0.9"/>
<line x1="342.70" y1="623.34" x2="347.30" y2="623.34" stroke="#111" stroke-width="0.9"/>
<circle cx="340.70" cy="604.34" r="2.0" fill="#111"/>
<circle cx="349.30" cy="606.33" r="2.0" fill="#111"/>
<circle cx="345.00" cy="614.48" r="2.0" fill="#111"/>
<circle cx="349.30" cy="619.00" r="2.0" fill="#111"/>
<circle cx="345.00" cy="626.24" r="2.0" fill="#111"/>
<line x1="364.10" y1="545.33" x2="364.10" y2="567.78" stroke="#111" stroke-width="0.9"/>
<line x1="361.80" y1="545.33" x2="366.40" y2="545.33" stroke="#111" stroke-width="0.9"/>
<line x1="361.80" y1="567.78" x2="366.40" y2="567.78" stroke="#111" stroke-width="0.9"/>
<circle cx="364.10" cy="540.81" r="2.0" fill="#111"/>
<circle cx="364.10" cy="551.67" r="2.0" fill="#111"/>
<circle cx="359.80" cy="557.28" r="2.0" fill="#111"/>
<circle cx="368.40" cy="560.72" r="2.0" fill="#111"/>
<circle cx="364.10" cy="569.59" r="2.0" fill="#111"/>
<line x1="383.30" y1="569.59" x2="383.30" y2="586.24" stroke="#111" stroke-width="0.9"/>
<line x1="381.00" y1="569.59" x2="385.60" y2="569.59" stroke="#111" stroke-width="0.9"/>
<line x1="381.00" y1="586.24" x2="385.60" y2="586.24" stroke="#111" stroke-width="0.9"/>
<circle cx="383.30" cy="567.96" r="2.0" fill="#111"/>
<circle cx="379.00" cy="575.20" r="2.0" fill="#111"/>
<circle cx="387.60" cy="573.57" r="2.0" fill="#111"/>
<circle cx="379.00" cy="586.06" r="2.0" fill="#111"/>
<circle cx="387.60" cy="583.16" r="2.0" fill="#111"/>
<circle cx="383.30" cy="580.63" r="2.0" fill="#111"/>
<line x1="402.60" y1="620.27" x2="402.60" y2="633.30" stroke="#111" stroke-width="0.9"/>
<line x1="400.30" y1="620.27" x2="404.90" y2="620.27" stroke="#111" stroke-width="0.9"/>
<line x1="400.30" y1="633.30" x2="404.90" y2="633.30" stroke="#111" stroke-width="0.9"/>
<circle cx="402.60" cy="617.01" r="2.0" fill="#111"/>
<circle cx="406.90" cy="624.25" r="2.0" fill="#111"/>
<circle cx="400.60" cy="629.32" r="2.0" fill="#111"/>
<circle cx="406.90" cy="630.22" r="2.0" fill="#111"/>
<circle cx="398.30" cy="631.67" r="2.0" fill="#111"/>
<line x1="421.90" y1="559.27" x2="421.90" y2="595.11" stroke="#111" stroke-width="0.9"/>
<line x1="419.60" y1="559.27" x2="424.20" y2="559.27" stroke="#111" stroke-width="0.9"/>
<line x1="419.60" y1="595.11" x2="424.20" y2="595.11" stroke="#111" stroke-width="0.9"/>
<circle cx="421.90" cy="555.29" r="2.0" fill="#111"/>
<circle cx="421.90" cy="564.16" r="2.0" fill="#111"/>
<circle cx="421.90" cy="577.55" r="2.0" fill="#111"/>
<circle cx="421.90" cy="588.41" r="2.0" fill="#111"/>
<circle cx="421.90" cy="599.45" r="2.0" fill="#111"/>
<line x1="441.40" y1="556.19" x2="441.40" y2="580.09" stroke="#111" stroke-width="0.9"/>
<line x1="439.10" y1="556.19" x2="443.70" y2="556.19" stroke="#111" stroke-width="0.9"/>
<line x1="439.10" y1="580.09" x2="443.70" y2="580.09" stroke="#111" stroke-width="0.9"/>
<circle cx="441.40" cy="553.30" r="2.0" fill="#111"/>
<circle cx="445.70" cy="558.73" r="2.0" fill="#111"/>
<circle cx="437.10" cy="562.71" r="2.0" fill="#111"/>
<circle cx="441.40" cy="575.20" r="2.0" fill="#111"/>
<circle cx="441.40" cy="584.61" r="2.0" fill="#111"/>
<line x1="373.50" y1="526.50" x2="373.50" y2="633.00" stroke="#444" stroke-width="1.3" stroke-dasharray="4.9 5.2"/>
<line x1="293.50" y1="522.00" x2="293.50" y2="633.90" stroke="#2a2a2a" stroke-width="1.2"/>
<line x1="292.90" y1="633.30" x2="449.80" y2="633.30" stroke="#2a2a2a" stroke-width="1.2"/>
<line x1="290.50" y1="633.30" x2="293.50" y2="633.30" stroke="#2a2a2a" stroke-width="1.02"/>
<text x="287.40" y="635.60" font-size="6.4" text-anchor="end" fill="#333333" stroke="#333333" stroke-width="0.18">0</text>
<line x1="290.50" y1="615.20" x2="293.50" y2="615.20" stroke="#2a2a2a" stroke-width="1.02"/>
<text x="287.40" y="617.50" font-size="6.4" text-anchor="end" fill="#333333" stroke="#333333" stroke-width="0.18">10</text>
<line x1="290.50" y1="597.10" x2="293.50" y2="597.10" stroke="#2a2a2a" stroke-width="1.02"/>
<text x="287.40" y="599.40" font-size="6.4" text-anchor="end" fill="#333333" stroke="#333333" stroke-width="0.18">20</text>
<line x1="290.50" y1="579.00" x2="293.50" y2="579.00" stroke="#2a2a2a" stroke-width="1.02"/>
<text x="287.40" y="581.30" font-size="6.4" text-anchor="end" fill="#333333" stroke="#333333" stroke-width="0.18">30</text>
<line x1="290.50" y1="560.90" x2="293.50" y2="560.90" stroke="#2a2a2a" stroke-width="1.02"/>
<text x="287.40" y="563.20" font-size="6.4" text-anchor="end" fill="#333333" stroke="#333333" stroke-width="0.18">40</text>
<line x1="290.50" y1="542.80" x2="293.50" y2="542.80" stroke="#2a2a2a" stroke-width="1.02"/>
<text x="287.40" y="545.10" font-size="6.4" text-anchor="end" fill="#333333" stroke="#333333" stroke-width="0.18">50</text>
<line x1="290.50" y1="524.70" x2="293.50" y2="524.70" stroke="#2a2a2a" stroke-width="1.02"/>
<text x="287.40" y="527.00" font-size="6.4" text-anchor="end" fill="#333333" stroke="#333333" stroke-width="0.18">60</text>
<line x1="306.20" y1="633.30" x2="306.20" y2="635.50" stroke="#2a2a2a" stroke-width="1.02"/>
<line x1="325.60" y1="633.30" x2="325.60" y2="635.50" stroke="#2a2a2a" stroke-width="1.02"/>
<line x1="345.00" y1="633.30" x2="345.00" y2="635.50" stroke="#2a2a2a" stroke-width="1.02"/>
<line x1="364.10" y1="633.30" x2="364.10" y2="635.50" stroke="#2a2a2a" stroke-width="1.02"/>
<line x1="383.30" y1="633.30" x2="383.30" y2="635.50" stroke="#2a2a2a" stroke-width="1.02"/>
<line x1="402.60" y1="633.30" x2="402.60" y2="635.50" stroke="#2a2a2a" stroke-width="1.02"/>
<line x1="421.90" y1="633.30" x2="421.90" y2="635.50" stroke="#2a2a2a" stroke-width="1.02"/>
<line x1="441.40" y1="633.30" x2="441.40" y2="635.50" stroke="#2a2a2a" stroke-width="1.02"/>
<text x="306.20" y="646.00" font-size="6.6" text-anchor="middle" fill="#333333" stroke="#333333" stroke-width="0.18">C1</text>
<text x="325.60" y="646.00" font-size="6.6" text-anchor="middle" fill="#333333" stroke="#333333" stroke-width="0.18">C2</text>
<text x="345.00" y="646.00" font-size="6.6" text-anchor="middle" fill="#333333" stroke="#333333" stroke-width="0.18">C3</text>
<text x="364.10" y="646.00" font-size="6.6" text-anchor="middle" fill="#333333" stroke="#333333" stroke-width="0.18">C4</text>
<text x="383.30" y="646.00" font-size="6.6" text-anchor="middle" fill="#333333" stroke="#333333" stroke-width="0.18">CMo</text>
<text x="402.60" y="646.00" font-size="6.6" text-anchor="middle" fill="#333333" stroke="#333333" stroke-width="0.18">Int</text>
<text x="421.90" y="646.00" font-size="6.6" text-anchor="middle" fill="#333333" stroke="#333333" stroke-width="0.18">NC</text>
<text x="441.40" y="646.00" font-size="6.6" text-anchor="middle" fill="#333333" stroke="#333333" stroke-width="0.18">Neut</text>
<path d="M305.90 517.90V515.60H344.70V517.90" fill="none" stroke="#2a2a2a" stroke-width="1.15"/>
<text x="325.60" y="514.80" font-size="8" text-anchor="middle" fill="#1a1a1a" font-weight="bold" letter-spacing="0.6">***</text>
<path d="M325.40 530.20V527.90H344.70V530.20" fill="none" stroke="#2a2a2a" stroke-width="1.15"/>
<text x="335.35" y="527.10" font-size="8" text-anchor="middle" fill="#1a1a1a" font-weight="bold" letter-spacing="0.6">**</text>
<path d="M344.70 530.20V527.90H364.60V530.20" fill="none" stroke="#2a2a2a" stroke-width="1.15"/>
<text x="354.95" y="527.10" font-size="8" text-anchor="middle" fill="#1a1a1a" font-weight="bold" letter-spacing="0.6">**</text>
<path d="M402.80 517.90V515.60H440.60V517.90" fill="none" stroke="#2a2a2a" stroke-width="1.15"/>
<text x="422.00" y="514.80" font-size="8" text-anchor="middle" fill="#1a1a1a" font-weight="bold" letter-spacing="0.6">***</text>
<path d="M382.90 530.20V527.90H402.80V530.20" fill="none" stroke="#2a2a2a" stroke-width="1.15"/>
<text x="393.15" y="527.10" font-size="8" text-anchor="middle" fill="#1a1a1a" font-weight="bold" letter-spacing="0.6">***</text>
<path d="M402.80 530.20V527.90H422.10V530.20" fill="none" stroke="#2a2a2a" stroke-width="1.15"/>
<text x="412.75" y="527.10" font-size="8" text-anchor="middle" fill="#1a1a1a" font-weight="bold" letter-spacing="0.6">**</text>
<text x="312.40" y="500.70" font-size="8.2" fill="#222" stroke="#222" stroke-width="0.18" text-anchor="start" textLength="118.80" lengthAdjust="spacingAndGlyphs"><tspan font-style="italic">S.aureus</tspan> killing - human blood</text>
<text x="272.80" y="578.00" font-size="8.4" text-anchor="middle" fill="#333333" stroke="#333333" stroke-width="0.18" textLength="34.30" lengthAdjust="spacingAndGlyphs" transform="rotate(-90 272.80 578.00)">% of killing</text>
<text x="6.70" y="16.80" font-size="12.2" font-weight="bold" fill="#111" stroke="#111" stroke-width="0.35">A</text>
<text x="265.50" y="16.80" font-size="12.2" font-weight="bold" fill="#111" stroke="#111" stroke-width="0.35">B</text>
<text x="6.30" y="178.10" font-size="12.2" font-weight="bold" fill="#111" stroke="#111" stroke-width="0.35">C</text>
<text x="265.50" y="178.10" font-size="12.2" font-weight="bold" fill="#111" stroke="#111" stroke-width="0.35">D</text>
<text x="395.30" y="178.10" font-size="12.2" font-weight="bold" fill="#111" stroke="#111" stroke-width="0.35">E</text>
<text x="6.80" y="336.10" font-size="12.2" font-weight="bold" fill="#111" stroke="#111" stroke-width="0.35">F</text>
<text x="265.60" y="340.60" font-size="12.2" font-weight="bold" fill="#111" stroke="#111" stroke-width="0.35">G</text>
<text x="6.80" y="503.10" font-size="12.2" font-weight="bold" fill="#111" stroke="#111" stroke-width="0.35">H</text>
<text x="265.70" y="503.10" font-size="12.2" font-weight="bold" fill="#111" stroke="#111" stroke-width="0.35">I</text>
<rect x="289.50" y="404.50" width="12.79" height="12.36" fill="#e52a2a"/>
<rect x="301.89" y="404.50" width="12.79" height="12.36" fill="#e52a2a"/>
<rect x="314.28" y="404.50" width="12.79" height="12.36" fill="#ee1414"/>
<rect x="326.67" y="404.50" width="12.79" height="12.36" fill="#ee1414"/>
<rect x="339.06" y="404.50" width="12.79" height="12.36" fill="#ee1414"/>
<rect x="351.45" y="404.50" width="12.79" height="12.36" fill="#ee1414"/>
<rect x="363.84" y="404.50" width="12.79" height="12.36" fill="#f5c0c0"/>
<rect x="289.50" y="416.46" width="12.79" height="12.36" fill="#f5c5c5"/>
<rect x="301.89" y="416.46" width="12.79" height="12.36" fill="#ffffff"/>
<rect x="314.28" y="416.46" width="12.79" height="12.36" fill="#ffffff"/>
<rect x="326.67" y="416.46" width="12.79" height="12.36" fill="#ee7d7d"/>
<rect x="339.06" y="416.46" width="12.79" height="12.36" fill="#ffffff"/>
<rect x="351.45" y="416.46" width="12.79" height="12.36" fill="#ffffff"/>
<rect x="363.84" y="416.46" width="12.79" height="12.36" fill="#e54848"/>
<rect x="289.50" y="428.42" width="12.79" height="12.36" fill="#e81c1c"/>
<rect x="301.89" y="428.42" width="12.79" height="12.36" fill="#e81c1c"/>
<rect x="314.28" y="428.42" width="12.79" height="12.36" fill="#f5b8b8"/>
<rect x="326.67" y="428.42" width="12.79" height="12.36" fill="#ffffff"/>
<rect x="339.06" y="428.42" width="12.79" height="12.36" fill="#f7caca"/>
<rect x="351.45" y="428.42" width="12.79" height="12.36" fill="#e83030"/>
<rect x="363.84" y="428.42" width="12.79" height="12.36" fill="#e81515"/>
<rect x="289.50" y="440.38" width="12.79" height="12.36" fill="#ffffff"/>
<rect x="301.89" y="440.38" width="12.79" height="12.36" fill="#f5c0c0"/>
<rect x="314.28" y="440.38" width="12.79" height="12.36" fill="#ea1a1a"/>
<rect x="326.67" y="440.38" width="12.79" height="12.36" fill="#e63232"/>
<rect x="339.06" y="440.38" width="12.79" height="12.36" fill="#ec1515"/>
<rect x="351.45" y="440.38" width="12.79" height="12.36" fill="#ec6a6a"/>
<rect x="363.84" y="440.38" width="12.79" height="12.36" fill="#e55050"/>
<rect x="289.50" y="452.34" width="12.79" height="12.36" fill="#ec7070"/>
<rect x="301.89" y="452.34" width="12.79" height="12.36" fill="#e85050"/>
<rect x="314.28" y="452.34" width="12.79" height="12.36" fill="#f7caca"/>
<rect x="326.67" y="452.34" width="12.79" height="12.36" fill="#f7caca"/>
<rect x="339.06" y="452.34" width="12.79" height="12.36" fill="#ec6a6a"/>
<rect x="351.45" y="452.34" width="12.79" height="12.36" fill="#f7caca"/>
<rect x="363.84" y="452.34" width="12.79" height="12.36" fill="#f2a5a5"/>
<rect x="289.50" y="464.30" width="12.79" height="12.36" fill="#f2a5a5"/>
<rect x="301.89" y="464.30" width="12.79" height="12.36" fill="#f09595"/>
<rect x="314.28" y="464.30" width="12.79" height="12.36" fill="#f2a0a0"/>
<rect x="326.67" y="464.30" width="12.79" height="12.36" fill="#e84848"/>
<rect x="339.06" y="464.30" width="12.79" height="12.36" fill="#ee8080"/>
<rect x="351.45" y="464.30" width="12.79" height="12.36" fill="#ee8080"/>
<rect x="363.84" y="464.30" width="12.79" height="12.36" fill="#ffffff"/>
<rect x="289.50" y="404.50" width="86.73" height="71.76" fill="none" stroke="#111" stroke-width="1.2"/>
<line x1="314.28" y1="404.50" x2="314.28" y2="476.26" stroke="#111" stroke-width="1.2"/>
<line x1="339.06" y1="404.50" x2="339.06" y2="476.26" stroke="#111" stroke-width="1.2"/>
<line x1="363.84" y1="404.50" x2="363.84" y2="476.26" stroke="#111" stroke-width="1.2"/>
<line x1="289.50" y1="452.34" x2="376.23" y2="452.34" stroke="#111" stroke-width="1.2"/>
<text x="296.60" y="400.80" font-size="6.8" text-anchor="start" fill="#2a2a2a" stroke="#2a2a2a" stroke-width="0.18" textLength="35.30" lengthAdjust="spacingAndGlyphs" transform="rotate(-90 296.60 400.80)">E.coli killing</text>
<text x="309.30" y="400.80" font-size="6.8" text-anchor="start" fill="#2a2a2a" stroke="#2a2a2a" stroke-width="0.18" textLength="34.70" lengthAdjust="spacingAndGlyphs" transform="rotate(-90 309.30 400.80)">E.coli Phago</text>
<text x="321.20" y="400.80" font-size="6.8" text-anchor="start" fill="#2a2a2a" stroke="#2a2a2a" stroke-width="0.18" textLength="44.40" lengthAdjust="spacingAndGlyphs" transform="rotate(-90 321.20 400.80)">S.aureus Killing</text>
<text x="333.60" y="400.80" font-size="6.8" text-anchor="start" fill="#2a2a2a" stroke="#2a2a2a" stroke-width="0.18" textLength="45.30" lengthAdjust="spacingAndGlyphs" transform="rotate(-90 333.60 400.80)">S.aureus Phago</text>
<text x="346.20" y="400.80" font-size="6.8" text-anchor="start" fill="#2a2a2a" stroke="#2a2a2a" stroke-width="0.18" textLength="8.80" lengthAdjust="spacingAndGlyphs" transform="rotate(-90 346.20 400.80)">IL6</text>
<text x="357.70" y="400.80" font-size="6.8" text-anchor="start" fill="#2a2a2a" stroke="#2a2a2a" stroke-width="0.18" textLength="27.90" lengthAdjust="spacingAndGlyphs" transform="rotate(-90 357.70 400.80)">TNFalpha</text>
<text x="370.90" y="400.80" font-size="6.8" text-anchor="start" fill="#2a2a2a" stroke="#2a2a2a" stroke-width="0.18" textLength="11.50" lengthAdjust="spacingAndGlyphs" transform="rotate(-90 370.90 400.80)">ROS</text>
<text x="379.60" y="413.40" font-size="6.8" text-anchor="start" fill="#4a6fa0" stroke="#4a6fa0" stroke-width="0.18" textLength="18.60" lengthAdjust="spacingAndGlyphs">Class1</text>
<text x="379.60" y="425.70" font-size="6.8" text-anchor="start" fill="#f3cc50" stroke="#f3cc50" stroke-width="0.18" textLength="18.60" lengthAdjust="spacingAndGlyphs">Class2</text>
<text x="379.60" y="438.10" font-size="6.8" text-anchor="start" fill="#60b460" stroke="#60b460" stroke-width="0.18" textLength="18.60" lengthAdjust="spacingAndGlyphs">Class3</text>
<text x="379.60" y="450.70" font-size="6.8" text-anchor="start" fill="#e058a8" stroke="#e058a8" stroke-width="0.18" textLength="18.60" lengthAdjust="spacingAndGlyphs">Class4</text>
<text x="379.60" y="463.60" font-size="6.8" text-anchor="start" fill="#333" stroke="#333" stroke-width="0.18" textLength="26.50" lengthAdjust="spacingAndGlyphs">Classical</text>
<text x="379.60" y="475.80" font-size="6.8" text-anchor="start" fill="#333" stroke="#333" stroke-width="0.18" textLength="39.60" lengthAdjust="spacingAndGlyphs">Non-Classical</text>
<text x="389.60" y="381.70" font-size="6.3" text-anchor="start" fill="#2a2a2a" stroke="#2a2a2a" stroke-width="0.18" textLength="14.20" lengthAdjust="spacingAndGlyphs">Rank</text>
<rect x="381.20" y="386.4" width="7.70" height="5.3" fill="#ffffff" stroke="#222" stroke-width="0.6"/>
<rect x="388.90" y="386.4" width="7.70" height="5.3" fill="#f3c4c4" stroke="#222" stroke-width="0.6"/>
<rect x="396.60" y="386.4" width="7.70" height="5.3" fill="#e65252" stroke="#222" stroke-width="0.6"/>
<rect x="404.30" y="386.4" width="7.70" height="5.3" fill="#e81a1a" stroke="#222" stroke-width="0.6"/>
<text x="378.80" y="397.50" font-size="6.3" text-anchor="start" fill="#2a2a2a" stroke="#2a2a2a" stroke-width="0.18" textLength="13.40" lengthAdjust="spacingAndGlyphs">Poor</text>
<text x="400.00" y="397.50" font-size="6.3" text-anchor="start" fill="#2a2a2a" stroke="#2a2a2a" stroke-width="0.18" textLength="15.50" lengthAdjust="spacingAndGlyphs">Good</text>
<text x="275.60" y="440.00" font-size="7.6" text-anchor="middle" fill="#222" stroke="#222" stroke-width="0.18" textLength="72.30" lengthAdjust="spacingAndGlyphs" transform="rotate(-90 275.60 440.00)">Functional assays using</text>
<text x="283.20" y="438.30" font-size="7.6" text-anchor="middle" fill="#222" stroke="#222" stroke-width="0.18" textLength="79.80" lengthAdjust="spacingAndGlyphs" transform="rotate(-90 283.20 438.30)">murine primary monocytes</text>
<rect x="143.20" y="356.60" width="3.40" height="3.30" fill="#c4c4c4"/>
<rect x="143.20" y="363.80" width="3.40" height="3.30" fill="#b0102a"/>
<text x="149.20" y="360.30" font-size="6.0" text-anchor="start" fill="#444" stroke="#444" stroke-width="0.18" textLength="37.80" lengthAdjust="spacingAndGlyphs">LPS(50ng/mL)</text>
<text x="149.20" y="367.40" font-size="6.0" text-anchor="start" fill="#444" stroke="#444" stroke-width="0.18" textLength="10.70" lengthAdjust="spacingAndGlyphs">PBS</text>
<rect x="0" y="0" width="520" height="1.1" fill="#4a4a4a"/><rect x="0" y="0" width="1.1" height="654" fill="#4a4a4a"/><rect x="518.8" y="0" width="1.2" height="654" fill="#5a5a5a"/><rect x="0" y="652.5" width="520" height="1.5" fill="#4a4a4a"/>
</svg></body></html>
